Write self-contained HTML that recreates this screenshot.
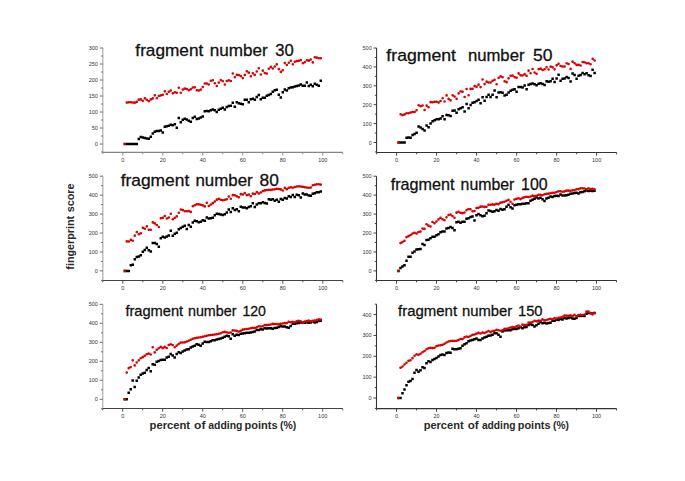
<!DOCTYPE html><html><head><meta charset="utf-8"><style>html,body{margin:0;padding:0;background:#fff;}svg{display:block;}</style></head><body>
<svg width="685" height="481" viewBox="0 0 685 481" font-family='"Liberation Sans", sans-serif'>
<rect width="685" height="481" fill="#fff"/>
<g><line x1="102.8" y1="48" x2="102.8" y2="152.4" stroke="#bdbdbd" stroke-width="1.5"/><line x1="101.1" y1="152" x2="102.8" y2="152" stroke="#5a5a5a" stroke-width="0.9"/><line x1="99.8" y1="144" x2="102.8" y2="144" stroke="#5a5a5a" stroke-width="0.9"/><text transform="translate(97.9 146) scale(1 1.12)" font-size="5.5" fill="#333" text-anchor="end">0</text><line x1="101.1" y1="136" x2="102.8" y2="136" stroke="#5a5a5a" stroke-width="0.9"/><line x1="99.8" y1="128" x2="102.8" y2="128" stroke="#5a5a5a" stroke-width="0.9"/><text transform="translate(97.9 130) scale(1 1.12)" font-size="5.5" fill="#333" text-anchor="end">50</text><line x1="101.1" y1="120" x2="102.8" y2="120" stroke="#5a5a5a" stroke-width="0.9"/><line x1="99.8" y1="112" x2="102.8" y2="112" stroke="#5a5a5a" stroke-width="0.9"/><text transform="translate(97.9 114) scale(1 1.12)" font-size="5.5" fill="#333" text-anchor="end">100</text><line x1="101.1" y1="104" x2="102.8" y2="104" stroke="#5a5a5a" stroke-width="0.9"/><line x1="99.8" y1="96" x2="102.8" y2="96" stroke="#5a5a5a" stroke-width="0.9"/><text transform="translate(97.9 98) scale(1 1.12)" font-size="5.5" fill="#333" text-anchor="end">150</text><line x1="101.1" y1="88" x2="102.8" y2="88" stroke="#5a5a5a" stroke-width="0.9"/><line x1="99.8" y1="80" x2="102.8" y2="80" stroke="#5a5a5a" stroke-width="0.9"/><text transform="translate(97.9 82) scale(1 1.12)" font-size="5.5" fill="#333" text-anchor="end">200</text><line x1="101.1" y1="72" x2="102.8" y2="72" stroke="#5a5a5a" stroke-width="0.9"/><line x1="99.8" y1="64" x2="102.8" y2="64" stroke="#5a5a5a" stroke-width="0.9"/><text transform="translate(97.9 66) scale(1 1.12)" font-size="5.5" fill="#333" text-anchor="end">250</text><line x1="101.1" y1="56" x2="102.8" y2="56" stroke="#5a5a5a" stroke-width="0.9"/><line x1="99.8" y1="48" x2="102.8" y2="48" stroke="#5a5a5a" stroke-width="0.9"/><text transform="translate(97.9 50) scale(1 1.12)" font-size="5.5" fill="#333" text-anchor="end">300</text><line x1="102.8" y1="152.4" x2="342.8" y2="152.4" stroke="#858585" stroke-width="1.1"/><line x1="102.8" y1="152.4" x2="102.8" y2="154.2" stroke="#858585" stroke-width="0.9"/><line x1="122.8" y1="152.4" x2="122.8" y2="155.6" stroke="#858585" stroke-width="0.9"/><text transform="translate(122.8 161.6) scale(1 1.12)" font-size="5.5" fill="#333" text-anchor="middle">0</text><line x1="142.8" y1="152.4" x2="142.8" y2="154.2" stroke="#858585" stroke-width="0.9"/><line x1="162.8" y1="152.4" x2="162.8" y2="155.6" stroke="#858585" stroke-width="0.9"/><text transform="translate(162.8 161.6) scale(1 1.12)" font-size="5.5" fill="#333" text-anchor="middle">20</text><line x1="182.8" y1="152.4" x2="182.8" y2="154.2" stroke="#858585" stroke-width="0.9"/><line x1="202.8" y1="152.4" x2="202.8" y2="155.6" stroke="#858585" stroke-width="0.9"/><text transform="translate(202.8 161.6) scale(1 1.12)" font-size="5.5" fill="#333" text-anchor="middle">40</text><line x1="222.8" y1="152.4" x2="222.8" y2="154.2" stroke="#858585" stroke-width="0.9"/><line x1="242.8" y1="152.4" x2="242.8" y2="155.6" stroke="#858585" stroke-width="0.9"/><text transform="translate(242.8 161.6) scale(1 1.12)" font-size="5.5" fill="#333" text-anchor="middle">60</text><line x1="262.8" y1="152.4" x2="262.8" y2="154.2" stroke="#858585" stroke-width="0.9"/><line x1="282.8" y1="152.4" x2="282.8" y2="155.6" stroke="#858585" stroke-width="0.9"/><text transform="translate(282.8 161.6) scale(1 1.12)" font-size="5.5" fill="#333" text-anchor="middle">80</text><line x1="302.8" y1="152.4" x2="302.8" y2="154.2" stroke="#858585" stroke-width="0.9"/><line x1="322.8" y1="152.4" x2="322.8" y2="155.6" stroke="#858585" stroke-width="0.9"/><text transform="translate(322.8 161.6) scale(1 1.12)" font-size="5.5" fill="#333" text-anchor="middle">100</text><line x1="342.8" y1="152.4" x2="342.8" y2="154.2" stroke="#858585" stroke-width="0.9"/><path d="M123.55 142.75h2.5v2.5h-2.5zM125.55 142.75h2.5v2.5h-2.5zM127.55 142.75h2.5v2.5h-2.5zM129.55 142.75h2.5v2.5h-2.5zM131.55 142.75h2.5v2.5h-2.5zM133.55 142.75h2.5v2.5h-2.5zM135.55 142.75h2.5v2.5h-2.5zM137.55 137.8h2.5v2.5h-2.5zM139.55 135.87h2.5v2.5h-2.5zM141.55 136.29h2.5v2.5h-2.5zM143.55 136.78h2.5v2.5h-2.5zM145.55 137.26h2.5v2.5h-2.5zM147.55 137.57h2.5v2.5h-2.5zM149.55 135.39h2.5v2.5h-2.5zM151.55 132.19h2.5v2.5h-2.5zM153.55 130.59h2.5v2.5h-2.5zM155.55 129.63h2.5v2.5h-2.5zM157.55 129.63h2.5v2.5h-2.5zM159.55 129.15h2.5v2.5h-2.5zM161.55 131.23h2.5v2.5h-2.5zM163.55 125.41h2.5v2.5h-2.5zM165.55 125.03h2.5v2.5h-2.5zM167.55 124.41h2.5v2.5h-2.5zM169.55 123.6h2.5v2.5h-2.5zM171.55 123.94h2.5v2.5h-2.5zM173.55 123.07h2.5v2.5h-2.5zM175.55 126.59h2.5v2.5h-2.5zM177.55 116.83h2.5v2.5h-2.5zM179.55 120.99h2.5v2.5h-2.5zM181.55 118.43h2.5v2.5h-2.5zM183.55 117.47h2.5v2.5h-2.5zM185.55 118.34h2.5v2.5h-2.5zM187.55 119.58h2.5v2.5h-2.5zM189.55 120.43h2.5v2.5h-2.5zM191.55 116.67h2.5v2.5h-2.5zM193.55 115.49h2.5v2.5h-2.5zM195.55 117.75h2.5v2.5h-2.5zM197.55 117.31h2.5v2.5h-2.5zM199.55 116.19h2.5v2.5h-2.5zM201.55 115.23h2.5v2.5h-2.5zM203.55 110.01h2.5v2.5h-2.5zM205.55 109.73h2.5v2.5h-2.5zM207.55 109.92h2.5v2.5h-2.5zM209.55 108.98h2.5v2.5h-2.5zM211.55 108.24h2.5v2.5h-2.5zM213.55 108.91h2.5v2.5h-2.5zM215.55 110.83h2.5v2.5h-2.5zM217.55 108.57h2.5v2.5h-2.5zM219.55 107.55h2.5v2.5h-2.5zM221.55 106.59h2.5v2.5h-2.5zM223.55 108.3h2.5v2.5h-2.5zM225.55 105.77h2.5v2.5h-2.5zM227.55 104.86h2.5v2.5h-2.5zM229.55 104.61h2.5v2.5h-2.5zM231.55 101.52h2.5v2.5h-2.5zM233.55 105.54h2.5v2.5h-2.5zM235.55 101.09h2.5v2.5h-2.5zM237.55 102h2.5v2.5h-2.5zM239.55 102.54h2.5v2.5h-2.5zM241.55 103.1h2.5v2.5h-2.5zM243.55 98.59h2.5v2.5h-2.5zM245.55 98.59h2.5v2.5h-2.5zM247.55 100.99h2.5v2.5h-2.5zM249.55 97.95h2.5v2.5h-2.5zM251.55 97.47h2.5v2.5h-2.5zM253.55 98.59h2.5v2.5h-2.5zM255.55 95.65h2.5v2.5h-2.5zM257.55 93.66h2.5v2.5h-2.5zM259.55 98.08h2.5v2.5h-2.5zM261.55 96.39h2.5v2.5h-2.5zM263.55 96.57h2.5v2.5h-2.5zM265.55 94.59h2.5v2.5h-2.5zM267.55 93.63h2.5v2.5h-2.5zM269.55 92.64h2.5v2.5h-2.5zM271.55 90.59h2.5v2.5h-2.5zM273.55 89.09h2.5v2.5h-2.5zM275.55 88.57h2.5v2.5h-2.5zM277.55 93.51h2.5v2.5h-2.5zM279.55 96.25h2.5v2.5h-2.5zM281.55 91.11h2.5v2.5h-2.5zM283.55 88.3h2.5v2.5h-2.5zM285.55 89.15h2.5v2.5h-2.5zM287.55 86.9h2.5v2.5h-2.5zM289.55 86.35h2.5v2.5h-2.5zM291.55 85.88h2.5v2.5h-2.5zM293.55 85.37h2.5v2.5h-2.5zM295.55 84.86h2.5v2.5h-2.5zM297.55 84.14h2.5v2.5h-2.5zM299.55 83.2h2.5v2.5h-2.5zM301.55 84.55h2.5v2.5h-2.5zM303.55 84.55h2.5v2.5h-2.5zM305.55 81.27h2.5v2.5h-2.5zM307.55 84.8h2.5v2.5h-2.5zM309.55 83.56h2.5v2.5h-2.5zM311.55 84.96h2.5v2.5h-2.5zM313.55 82.43h2.5v2.5h-2.5zM315.55 83.42h2.5v2.5h-2.5zM317.55 84.51h2.5v2.5h-2.5zM319.55 79.39h2.5v2.5h-2.5z" fill="#000"/><path d="M123.5 144a1.3 1.3 0 1 0 2.6 0a1.3 1.3 0 1 0 -2.6 0zM125.5 102.62a1.3 1.3 0 1 0 2.6 0a1.3 1.3 0 1 0 -2.6 0zM127.5 102.3a1.3 1.3 0 1 0 2.6 0a1.3 1.3 0 1 0 -2.6 0zM129.5 102.18a1.3 1.3 0 1 0 2.6 0a1.3 1.3 0 1 0 -2.6 0zM131.5 102.49a1.3 1.3 0 1 0 2.6 0a1.3 1.3 0 1 0 -2.6 0zM133.5 102.66a1.3 1.3 0 1 0 2.6 0a1.3 1.3 0 1 0 -2.6 0zM135.5 101.89a1.3 1.3 0 1 0 2.6 0a1.3 1.3 0 1 0 -2.6 0zM137.5 99.65a1.3 1.3 0 1 0 2.6 0a1.3 1.3 0 1 0 -2.6 0zM139.5 99.39a1.3 1.3 0 1 0 2.6 0a1.3 1.3 0 1 0 -2.6 0zM141.5 100.86a1.3 1.3 0 1 0 2.6 0a1.3 1.3 0 1 0 -2.6 0zM143.5 98.37a1.3 1.3 0 1 0 2.6 0a1.3 1.3 0 1 0 -2.6 0zM145.5 99.71a1.3 1.3 0 1 0 2.6 0a1.3 1.3 0 1 0 -2.6 0zM147.5 101.25a1.3 1.3 0 1 0 2.6 0a1.3 1.3 0 1 0 -2.6 0zM149.5 99.42a1.3 1.3 0 1 0 2.6 0a1.3 1.3 0 1 0 -2.6 0zM151.5 98.4a1.3 1.3 0 1 0 2.6 0a1.3 1.3 0 1 0 -2.6 0zM153.5 95.36a1.3 1.3 0 1 0 2.6 0a1.3 1.3 0 1 0 -2.6 0zM155.5 98.22a1.3 1.3 0 1 0 2.6 0a1.3 1.3 0 1 0 -2.6 0zM157.5 96a1.3 1.3 0 1 0 2.6 0a1.3 1.3 0 1 0 -2.6 0zM159.5 95.36a1.3 1.3 0 1 0 2.6 0a1.3 1.3 0 1 0 -2.6 0zM161.5 94.72a1.3 1.3 0 1 0 2.6 0a1.3 1.3 0 1 0 -2.6 0zM163.5 91.33a1.3 1.3 0 1 0 2.6 0a1.3 1.3 0 1 0 -2.6 0zM165.5 93.93a1.3 1.3 0 1 0 2.6 0a1.3 1.3 0 1 0 -2.6 0zM167.5 91.68a1.3 1.3 0 1 0 2.6 0a1.3 1.3 0 1 0 -2.6 0zM169.5 90.56a1.3 1.3 0 1 0 2.6 0a1.3 1.3 0 1 0 -2.6 0zM171.5 93.31a1.3 1.3 0 1 0 2.6 0a1.3 1.3 0 1 0 -2.6 0zM173.5 92.22a1.3 1.3 0 1 0 2.6 0a1.3 1.3 0 1 0 -2.6 0zM175.5 92.8a1.3 1.3 0 1 0 2.6 0a1.3 1.3 0 1 0 -2.6 0zM177.5 87.68a1.3 1.3 0 1 0 2.6 0a1.3 1.3 0 1 0 -2.6 0zM179.5 92.8a1.3 1.3 0 1 0 2.6 0a1.3 1.3 0 1 0 -2.6 0zM181.5 89.6a1.3 1.3 0 1 0 2.6 0a1.3 1.3 0 1 0 -2.6 0zM183.5 88.62a1.3 1.3 0 1 0 2.6 0a1.3 1.3 0 1 0 -2.6 0zM185.5 88.99a1.3 1.3 0 1 0 2.6 0a1.3 1.3 0 1 0 -2.6 0zM187.5 90.18a1.3 1.3 0 1 0 2.6 0a1.3 1.3 0 1 0 -2.6 0zM189.5 89.23a1.3 1.3 0 1 0 2.6 0a1.3 1.3 0 1 0 -2.6 0zM191.5 87.47a1.3 1.3 0 1 0 2.6 0a1.3 1.3 0 1 0 -2.6 0zM193.5 87.36a1.3 1.3 0 1 0 2.6 0a1.3 1.3 0 1 0 -2.6 0zM195.5 90.27a1.3 1.3 0 1 0 2.6 0a1.3 1.3 0 1 0 -2.6 0zM197.5 90.56a1.3 1.3 0 1 0 2.6 0a1.3 1.3 0 1 0 -2.6 0zM199.5 89.6a1.3 1.3 0 1 0 2.6 0a1.3 1.3 0 1 0 -2.6 0zM201.5 87.04a1.3 1.3 0 1 0 2.6 0a1.3 1.3 0 1 0 -2.6 0zM203.5 83.52a1.3 1.3 0 1 0 2.6 0a1.3 1.3 0 1 0 -2.6 0zM205.5 83.52a1.3 1.3 0 1 0 2.6 0a1.3 1.3 0 1 0 -2.6 0zM207.5 84.48a1.3 1.3 0 1 0 2.6 0a1.3 1.3 0 1 0 -2.6 0zM209.5 80.79a1.3 1.3 0 1 0 2.6 0a1.3 1.3 0 1 0 -2.6 0zM211.5 80.29a1.3 1.3 0 1 0 2.6 0a1.3 1.3 0 1 0 -2.6 0zM213.5 83.23a1.3 1.3 0 1 0 2.6 0a1.3 1.3 0 1 0 -2.6 0zM215.5 86.05a1.3 1.3 0 1 0 2.6 0a1.3 1.3 0 1 0 -2.6 0zM217.5 82.62a1.3 1.3 0 1 0 2.6 0a1.3 1.3 0 1 0 -2.6 0zM219.5 80a1.3 1.3 0 1 0 2.6 0a1.3 1.3 0 1 0 -2.6 0zM221.5 81.28a1.3 1.3 0 1 0 2.6 0a1.3 1.3 0 1 0 -2.6 0zM223.5 84.48a1.3 1.3 0 1 0 2.6 0a1.3 1.3 0 1 0 -2.6 0zM225.5 80.96a1.3 1.3 0 1 0 2.6 0a1.3 1.3 0 1 0 -2.6 0zM227.5 80.32a1.3 1.3 0 1 0 2.6 0a1.3 1.3 0 1 0 -2.6 0zM229.5 80.96a1.3 1.3 0 1 0 2.6 0a1.3 1.3 0 1 0 -2.6 0zM231.5 73.51a1.3 1.3 0 1 0 2.6 0a1.3 1.3 0 1 0 -2.6 0zM233.5 77.18a1.3 1.3 0 1 0 2.6 0a1.3 1.3 0 1 0 -2.6 0zM235.5 74.88a1.3 1.3 0 1 0 2.6 0a1.3 1.3 0 1 0 -2.6 0zM237.5 74.98a1.3 1.3 0 1 0 2.6 0a1.3 1.3 0 1 0 -2.6 0zM239.5 76.1a1.3 1.3 0 1 0 2.6 0a1.3 1.3 0 1 0 -2.6 0zM241.5 78.08a1.3 1.3 0 1 0 2.6 0a1.3 1.3 0 1 0 -2.6 0zM243.5 74.88a1.3 1.3 0 1 0 2.6 0a1.3 1.3 0 1 0 -2.6 0zM245.5 71.2a1.3 1.3 0 1 0 2.6 0a1.3 1.3 0 1 0 -2.6 0zM247.5 72.64a1.3 1.3 0 1 0 2.6 0a1.3 1.3 0 1 0 -2.6 0zM249.5 76.32a1.3 1.3 0 1 0 2.6 0a1.3 1.3 0 1 0 -2.6 0zM251.5 73.28a1.3 1.3 0 1 0 2.6 0a1.3 1.3 0 1 0 -2.6 0zM253.5 74.88a1.3 1.3 0 1 0 2.6 0a1.3 1.3 0 1 0 -2.6 0zM255.5 71.55a1.3 1.3 0 1 0 2.6 0a1.3 1.3 0 1 0 -2.6 0zM257.5 68.26a1.3 1.3 0 1 0 2.6 0a1.3 1.3 0 1 0 -2.6 0zM259.5 74.43a1.3 1.3 0 1 0 2.6 0a1.3 1.3 0 1 0 -2.6 0zM261.5 70.66a1.3 1.3 0 1 0 2.6 0a1.3 1.3 0 1 0 -2.6 0zM263.5 73.02a1.3 1.3 0 1 0 2.6 0a1.3 1.3 0 1 0 -2.6 0zM265.5 73.6a1.3 1.3 0 1 0 2.6 0a1.3 1.3 0 1 0 -2.6 0zM267.5 68.8a1.3 1.3 0 1 0 2.6 0a1.3 1.3 0 1 0 -2.6 0zM269.5 66.88a1.3 1.3 0 1 0 2.6 0a1.3 1.3 0 1 0 -2.6 0zM271.5 68.48a1.3 1.3 0 1 0 2.6 0a1.3 1.3 0 1 0 -2.6 0zM273.5 66.56a1.3 1.3 0 1 0 2.6 0a1.3 1.3 0 1 0 -2.6 0zM275.5 64.35a1.3 1.3 0 1 0 2.6 0a1.3 1.3 0 1 0 -2.6 0zM277.5 69.12a1.3 1.3 0 1 0 2.6 0a1.3 1.3 0 1 0 -2.6 0zM279.5 71.9a1.3 1.3 0 1 0 2.6 0a1.3 1.3 0 1 0 -2.6 0zM281.5 70.21a1.3 1.3 0 1 0 2.6 0a1.3 1.3 0 1 0 -2.6 0zM283.5 62.98a1.3 1.3 0 1 0 2.6 0a1.3 1.3 0 1 0 -2.6 0zM285.5 65.05a1.3 1.3 0 1 0 2.6 0a1.3 1.3 0 1 0 -2.6 0zM287.5 62.72a1.3 1.3 0 1 0 2.6 0a1.3 1.3 0 1 0 -2.6 0zM289.5 60.8a1.3 1.3 0 1 0 2.6 0a1.3 1.3 0 1 0 -2.6 0zM291.5 64.32a1.3 1.3 0 1 0 2.6 0a1.3 1.3 0 1 0 -2.6 0zM293.5 61.76a1.3 1.3 0 1 0 2.6 0a1.3 1.3 0 1 0 -2.6 0zM295.5 61.12a1.3 1.3 0 1 0 2.6 0a1.3 1.3 0 1 0 -2.6 0zM297.5 60.83a1.3 1.3 0 1 0 2.6 0a1.3 1.3 0 1 0 -2.6 0zM299.5 59.96a1.3 1.3 0 1 0 2.6 0a1.3 1.3 0 1 0 -2.6 0zM301.5 63.26a1.3 1.3 0 1 0 2.6 0a1.3 1.3 0 1 0 -2.6 0zM303.5 62.18a1.3 1.3 0 1 0 2.6 0a1.3 1.3 0 1 0 -2.6 0zM305.5 60.22a1.3 1.3 0 1 0 2.6 0a1.3 1.3 0 1 0 -2.6 0zM307.5 60.64a1.3 1.3 0 1 0 2.6 0a1.3 1.3 0 1 0 -2.6 0zM309.5 59.49a1.3 1.3 0 1 0 2.6 0a1.3 1.3 0 1 0 -2.6 0zM311.5 62.4a1.3 1.3 0 1 0 2.6 0a1.3 1.3 0 1 0 -2.6 0zM313.5 57.28a1.3 1.3 0 1 0 2.6 0a1.3 1.3 0 1 0 -2.6 0zM315.5 57.6a1.3 1.3 0 1 0 2.6 0a1.3 1.3 0 1 0 -2.6 0zM317.5 58.24a1.3 1.3 0 1 0 2.6 0a1.3 1.3 0 1 0 -2.6 0zM319.5 58.24a1.3 1.3 0 1 0 2.6 0a1.3 1.3 0 1 0 -2.6 0z" fill="#dc0000"/><text x="135.36" y="55.90" font-size="17" fill="#111" textLength="67.87" lengthAdjust="spacingAndGlyphs" stroke="#111" stroke-width="0.3">fragment</text><text x="209.87" y="55.90" font-size="17" fill="#111" textLength="57.92" lengthAdjust="spacingAndGlyphs" stroke="#111" stroke-width="0.3">number</text><text x="275.37" y="55.90" font-size="17" fill="#111" textLength="18.48" lengthAdjust="spacingAndGlyphs" stroke="#111" stroke-width="0.3">30</text></g>
<g><line x1="376.6" y1="48" x2="376.6" y2="152.5" stroke="#333" stroke-width="1.1"/><line x1="374.9" y1="151.95" x2="376.6" y2="151.95" stroke="#333" stroke-width="0.9"/><line x1="373.6" y1="142.5" x2="376.6" y2="142.5" stroke="#333" stroke-width="0.9"/><text transform="translate(371.7 144.5) scale(1 1.12)" font-size="5.5" fill="#333" text-anchor="end">0</text><line x1="374.9" y1="133.05" x2="376.6" y2="133.05" stroke="#333" stroke-width="0.9"/><line x1="373.6" y1="123.6" x2="376.6" y2="123.6" stroke="#333" stroke-width="0.9"/><text transform="translate(371.7 125.6) scale(1 1.12)" font-size="5.5" fill="#333" text-anchor="end">100</text><line x1="374.9" y1="114.15" x2="376.6" y2="114.15" stroke="#333" stroke-width="0.9"/><line x1="373.6" y1="104.7" x2="376.6" y2="104.7" stroke="#333" stroke-width="0.9"/><text transform="translate(371.7 106.7) scale(1 1.12)" font-size="5.5" fill="#333" text-anchor="end">200</text><line x1="374.9" y1="95.25" x2="376.6" y2="95.25" stroke="#333" stroke-width="0.9"/><line x1="373.6" y1="85.8" x2="376.6" y2="85.8" stroke="#333" stroke-width="0.9"/><text transform="translate(371.7 87.8) scale(1 1.12)" font-size="5.5" fill="#333" text-anchor="end">300</text><line x1="374.9" y1="76.35" x2="376.6" y2="76.35" stroke="#333" stroke-width="0.9"/><line x1="373.6" y1="66.9" x2="376.6" y2="66.9" stroke="#333" stroke-width="0.9"/><text transform="translate(371.7 68.9) scale(1 1.12)" font-size="5.5" fill="#333" text-anchor="end">400</text><line x1="374.9" y1="57.45" x2="376.6" y2="57.45" stroke="#333" stroke-width="0.9"/><line x1="373.6" y1="48" x2="376.6" y2="48" stroke="#333" stroke-width="0.9"/><text transform="translate(371.7 50) scale(1 1.12)" font-size="5.5" fill="#333" text-anchor="end">500</text><line x1="376.6" y1="152.5" x2="616.6" y2="152.5" stroke="#333" stroke-width="1.1"/><line x1="376.6" y1="152.5" x2="376.6" y2="154.3" stroke="#333" stroke-width="0.9"/><line x1="396.6" y1="152.5" x2="396.6" y2="155.7" stroke="#333" stroke-width="0.9"/><text transform="translate(396.6 161.7) scale(1 1.12)" font-size="5.5" fill="#333" text-anchor="middle">0</text><line x1="416.6" y1="152.5" x2="416.6" y2="154.3" stroke="#333" stroke-width="0.9"/><line x1="436.6" y1="152.5" x2="436.6" y2="155.7" stroke="#333" stroke-width="0.9"/><text transform="translate(436.6 161.7) scale(1 1.12)" font-size="5.5" fill="#333" text-anchor="middle">20</text><line x1="456.6" y1="152.5" x2="456.6" y2="154.3" stroke="#333" stroke-width="0.9"/><line x1="476.6" y1="152.5" x2="476.6" y2="155.7" stroke="#333" stroke-width="0.9"/><text transform="translate(476.6 161.7) scale(1 1.12)" font-size="5.5" fill="#333" text-anchor="middle">40</text><line x1="496.6" y1="152.5" x2="496.6" y2="154.3" stroke="#333" stroke-width="0.9"/><line x1="516.6" y1="152.5" x2="516.6" y2="155.7" stroke="#333" stroke-width="0.9"/><text transform="translate(516.6 161.7) scale(1 1.12)" font-size="5.5" fill="#333" text-anchor="middle">60</text><line x1="536.6" y1="152.5" x2="536.6" y2="154.3" stroke="#333" stroke-width="0.9"/><line x1="556.6" y1="152.5" x2="556.6" y2="155.7" stroke="#333" stroke-width="0.9"/><text transform="translate(556.6 161.7) scale(1 1.12)" font-size="5.5" fill="#333" text-anchor="middle">80</text><line x1="576.6" y1="152.5" x2="576.6" y2="154.3" stroke="#333" stroke-width="0.9"/><line x1="596.6" y1="152.5" x2="596.6" y2="155.7" stroke="#333" stroke-width="0.9"/><text transform="translate(596.6 161.7) scale(1 1.12)" font-size="5.5" fill="#333" text-anchor="middle">100</text><line x1="616.6" y1="152.5" x2="616.6" y2="154.3" stroke="#333" stroke-width="0.9"/><path d="M397.35 141.25h2.5v2.5h-2.5zM399.35 141.25h2.5v2.5h-2.5zM401.35 141.25h2.5v2.5h-2.5zM403.35 141.25h2.5v2.5h-2.5zM405.35 136.41h2.5v2.5h-2.5zM407.35 136.13h2.5v2.5h-2.5zM409.35 136.59h2.5v2.5h-2.5zM411.35 133.68h2.5v2.5h-2.5zM413.35 132.68h2.5v2.5h-2.5zM415.35 131.43h2.5v2.5h-2.5zM417.35 125.23h2.5v2.5h-2.5zM419.35 126.22h2.5v2.5h-2.5zM421.35 127.74h2.5v2.5h-2.5zM423.35 129.25h2.5v2.5h-2.5zM425.35 124.2h2.5v2.5h-2.5zM427.35 125.88h2.5v2.5h-2.5zM429.35 122.17h2.5v2.5h-2.5zM431.35 119.98h2.5v2.5h-2.5zM433.35 118.94h2.5v2.5h-2.5zM435.35 118h2.5v2.5h-2.5zM437.35 117.96h2.5v2.5h-2.5zM439.35 117.3h2.5v2.5h-2.5zM441.35 114.98h2.5v2.5h-2.5zM443.35 118h2.5v2.5h-2.5zM445.35 113.84h2.5v2.5h-2.5zM447.35 113.98h2.5v2.5h-2.5zM449.35 114.87h2.5v2.5h-2.5zM451.35 109.61h2.5v2.5h-2.5zM453.35 109.17h2.5v2.5h-2.5zM455.35 111.58h2.5v2.5h-2.5zM457.35 107.99h2.5v2.5h-2.5zM459.35 107.04h2.5v2.5h-2.5zM461.35 106.01h2.5v2.5h-2.5zM463.35 110.14h2.5v2.5h-2.5zM465.35 102.75h2.5v2.5h-2.5zM467.35 107.04h2.5v2.5h-2.5zM469.35 103.87h2.5v2.5h-2.5zM471.35 101.59h2.5v2.5h-2.5zM473.35 100.99h2.5v2.5h-2.5zM475.35 99.82h2.5v2.5h-2.5zM477.35 98.44h2.5v2.5h-2.5zM479.35 102.08h2.5v2.5h-2.5zM481.35 95.89h2.5v2.5h-2.5zM483.35 99.48h2.5v2.5h-2.5zM485.35 95.74h2.5v2.5h-2.5zM487.35 93.42h2.5v2.5h-2.5zM489.35 95.7h2.5v2.5h-2.5zM491.35 93.57h2.5v2.5h-2.5zM493.35 89.28h2.5v2.5h-2.5zM495.35 95.89h2.5v2.5h-2.5zM497.35 91.35h2.5v2.5h-2.5zM499.35 90.98h2.5v2.5h-2.5zM501.35 91.45h2.5v2.5h-2.5zM503.35 94.28h2.5v2.5h-2.5zM505.35 93.55h2.5v2.5h-2.5zM507.35 91.22h2.5v2.5h-2.5zM509.35 89.62h2.5v2.5h-2.5zM511.35 88.44h2.5v2.5h-2.5zM513.35 87.94h2.5v2.5h-2.5zM515.35 90.51h2.5v2.5h-2.5zM517.35 85.87h2.5v2.5h-2.5zM519.35 85.87h2.5v2.5h-2.5zM521.35 86.33h2.5v2.5h-2.5zM523.35 84.25h2.5v2.5h-2.5zM525.35 87.88h2.5v2.5h-2.5zM527.35 83.59h2.5v2.5h-2.5zM529.35 82.67h2.5v2.5h-2.5zM531.35 82.2h2.5v2.5h-2.5zM533.35 82.92h2.5v2.5h-2.5zM535.35 84.02h2.5v2.5h-2.5zM537.35 82.61h2.5v2.5h-2.5zM539.35 82.11h2.5v2.5h-2.5zM541.35 82.79h2.5v2.5h-2.5zM543.35 83.66h2.5v2.5h-2.5zM545.35 79.95h2.5v2.5h-2.5zM547.35 80.39h2.5v2.5h-2.5zM549.35 79.95h2.5v2.5h-2.5zM551.35 77.6h2.5v2.5h-2.5zM553.35 80.66h2.5v2.5h-2.5zM555.35 77.33h2.5v2.5h-2.5zM557.35 73.6h2.5v2.5h-2.5zM559.35 79.43h2.5v2.5h-2.5zM561.35 77.56h2.5v2.5h-2.5zM563.35 77.19h2.5v2.5h-2.5zM565.35 75.83h2.5v2.5h-2.5zM567.35 76.76h2.5v2.5h-2.5zM569.35 80.34h2.5v2.5h-2.5zM571.35 72.18h2.5v2.5h-2.5zM573.35 73.7h2.5v2.5h-2.5zM575.35 77.56h2.5v2.5h-2.5zM577.35 74.43h2.5v2.5h-2.5zM579.35 73.83h2.5v2.5h-2.5zM581.35 71.86h2.5v2.5h-2.5zM583.35 72.97h2.5v2.5h-2.5zM585.35 71.92h2.5v2.5h-2.5zM587.35 73.97h2.5v2.5h-2.5zM589.35 74.67h2.5v2.5h-2.5zM591.35 68.44h2.5v2.5h-2.5zM593.35 71.7h2.5v2.5h-2.5z" fill="#000"/><path d="M397.3 142.5a1.3 1.3 0 1 0 2.6 0a1.3 1.3 0 1 0 -2.6 0zM399.3 114.29a1.3 1.3 0 1 0 2.6 0a1.3 1.3 0 1 0 -2.6 0zM401.3 115.09a1.3 1.3 0 1 0 2.6 0a1.3 1.3 0 1 0 -2.6 0zM403.3 114.4a1.3 1.3 0 1 0 2.6 0a1.3 1.3 0 1 0 -2.6 0zM405.3 113.3a1.3 1.3 0 1 0 2.6 0a1.3 1.3 0 1 0 -2.6 0zM407.3 113.28a1.3 1.3 0 1 0 2.6 0a1.3 1.3 0 1 0 -2.6 0zM409.3 112.52a1.3 1.3 0 1 0 2.6 0a1.3 1.3 0 1 0 -2.6 0zM411.3 111.97a1.3 1.3 0 1 0 2.6 0a1.3 1.3 0 1 0 -2.6 0zM413.3 111.99a1.3 1.3 0 1 0 2.6 0a1.3 1.3 0 1 0 -2.6 0zM415.3 110.18a1.3 1.3 0 1 0 2.6 0a1.3 1.3 0 1 0 -2.6 0zM417.3 105.2a1.3 1.3 0 1 0 2.6 0a1.3 1.3 0 1 0 -2.6 0zM419.3 106.24a1.3 1.3 0 1 0 2.6 0a1.3 1.3 0 1 0 -2.6 0zM421.3 105.46a1.3 1.3 0 1 0 2.6 0a1.3 1.3 0 1 0 -2.6 0zM423.3 109.99a1.3 1.3 0 1 0 2.6 0a1.3 1.3 0 1 0 -2.6 0zM425.3 105.61a1.3 1.3 0 1 0 2.6 0a1.3 1.3 0 1 0 -2.6 0zM427.3 107.27a1.3 1.3 0 1 0 2.6 0a1.3 1.3 0 1 0 -2.6 0zM429.3 102.15a1.3 1.3 0 1 0 2.6 0a1.3 1.3 0 1 0 -2.6 0zM431.3 102.28a1.3 1.3 0 1 0 2.6 0a1.3 1.3 0 1 0 -2.6 0zM433.3 101.77a1.3 1.3 0 1 0 2.6 0a1.3 1.3 0 1 0 -2.6 0zM435.3 101.75a1.3 1.3 0 1 0 2.6 0a1.3 1.3 0 1 0 -2.6 0zM437.3 102.59a1.3 1.3 0 1 0 2.6 0a1.3 1.3 0 1 0 -2.6 0zM439.3 100.96a1.3 1.3 0 1 0 2.6 0a1.3 1.3 0 1 0 -2.6 0zM441.3 98.22a1.3 1.3 0 1 0 2.6 0a1.3 1.3 0 1 0 -2.6 0zM443.3 101.49a1.3 1.3 0 1 0 2.6 0a1.3 1.3 0 1 0 -2.6 0zM445.3 95.4a1.3 1.3 0 1 0 2.6 0a1.3 1.3 0 1 0 -2.6 0zM447.3 98.92a1.3 1.3 0 1 0 2.6 0a1.3 1.3 0 1 0 -2.6 0zM449.3 100.35a1.3 1.3 0 1 0 2.6 0a1.3 1.3 0 1 0 -2.6 0zM451.3 95.34a1.3 1.3 0 1 0 2.6 0a1.3 1.3 0 1 0 -2.6 0zM453.3 96.44a1.3 1.3 0 1 0 2.6 0a1.3 1.3 0 1 0 -2.6 0zM455.3 98.84a1.3 1.3 0 1 0 2.6 0a1.3 1.3 0 1 0 -2.6 0zM457.3 93.39a1.3 1.3 0 1 0 2.6 0a1.3 1.3 0 1 0 -2.6 0zM459.3 91.28a1.3 1.3 0 1 0 2.6 0a1.3 1.3 0 1 0 -2.6 0zM461.3 91.87a1.3 1.3 0 1 0 2.6 0a1.3 1.3 0 1 0 -2.6 0zM463.3 96.95a1.3 1.3 0 1 0 2.6 0a1.3 1.3 0 1 0 -2.6 0zM465.3 89.06a1.3 1.3 0 1 0 2.6 0a1.3 1.3 0 1 0 -2.6 0zM467.3 95.25a1.3 1.3 0 1 0 2.6 0a1.3 1.3 0 1 0 -2.6 0zM469.3 88.9a1.3 1.3 0 1 0 2.6 0a1.3 1.3 0 1 0 -2.6 0zM471.3 88.82a1.3 1.3 0 1 0 2.6 0a1.3 1.3 0 1 0 -2.6 0zM473.3 86.1a1.3 1.3 0 1 0 2.6 0a1.3 1.3 0 1 0 -2.6 0zM475.3 86.76a1.3 1.3 0 1 0 2.6 0a1.3 1.3 0 1 0 -2.6 0zM477.3 84.65a1.3 1.3 0 1 0 2.6 0a1.3 1.3 0 1 0 -2.6 0zM479.3 87.12a1.3 1.3 0 1 0 2.6 0a1.3 1.3 0 1 0 -2.6 0zM481.3 79.56a1.3 1.3 0 1 0 2.6 0a1.3 1.3 0 1 0 -2.6 0zM483.3 84.11a1.3 1.3 0 1 0 2.6 0a1.3 1.3 0 1 0 -2.6 0zM485.3 81.64a1.3 1.3 0 1 0 2.6 0a1.3 1.3 0 1 0 -2.6 0zM487.3 82.51a1.3 1.3 0 1 0 2.6 0a1.3 1.3 0 1 0 -2.6 0zM489.3 82.47a1.3 1.3 0 1 0 2.6 0a1.3 1.3 0 1 0 -2.6 0zM491.3 80.83a1.3 1.3 0 1 0 2.6 0a1.3 1.3 0 1 0 -2.6 0zM493.3 79.78a1.3 1.3 0 1 0 2.6 0a1.3 1.3 0 1 0 -2.6 0zM495.3 84.29a1.3 1.3 0 1 0 2.6 0a1.3 1.3 0 1 0 -2.6 0zM497.3 77.86a1.3 1.3 0 1 0 2.6 0a1.3 1.3 0 1 0 -2.6 0zM499.3 76.35a1.3 1.3 0 1 0 2.6 0a1.3 1.3 0 1 0 -2.6 0zM501.3 77.26a1.3 1.3 0 1 0 2.6 0a1.3 1.3 0 1 0 -2.6 0zM503.3 81.3a1.3 1.3 0 1 0 2.6 0a1.3 1.3 0 1 0 -2.6 0zM505.3 82.15a1.3 1.3 0 1 0 2.6 0a1.3 1.3 0 1 0 -2.6 0zM507.3 78.33a1.3 1.3 0 1 0 2.6 0a1.3 1.3 0 1 0 -2.6 0zM509.3 75.73a1.3 1.3 0 1 0 2.6 0a1.3 1.3 0 1 0 -2.6 0zM511.3 75.45a1.3 1.3 0 1 0 2.6 0a1.3 1.3 0 1 0 -2.6 0zM513.3 77.07a1.3 1.3 0 1 0 2.6 0a1.3 1.3 0 1 0 -2.6 0zM515.3 77.72a1.3 1.3 0 1 0 2.6 0a1.3 1.3 0 1 0 -2.6 0zM517.3 73.38a1.3 1.3 0 1 0 2.6 0a1.3 1.3 0 1 0 -2.6 0zM519.3 75.29a1.3 1.3 0 1 0 2.6 0a1.3 1.3 0 1 0 -2.6 0zM521.3 75.53a1.3 1.3 0 1 0 2.6 0a1.3 1.3 0 1 0 -2.6 0zM523.3 74.13a1.3 1.3 0 1 0 2.6 0a1.3 1.3 0 1 0 -2.6 0zM525.3 75.84a1.3 1.3 0 1 0 2.6 0a1.3 1.3 0 1 0 -2.6 0zM527.3 70.64a1.3 1.3 0 1 0 2.6 0a1.3 1.3 0 1 0 -2.6 0zM529.3 73.25a1.3 1.3 0 1 0 2.6 0a1.3 1.3 0 1 0 -2.6 0zM531.3 69.02a1.3 1.3 0 1 0 2.6 0a1.3 1.3 0 1 0 -2.6 0zM533.3 72.48a1.3 1.3 0 1 0 2.6 0a1.3 1.3 0 1 0 -2.6 0zM535.3 73.7a1.3 1.3 0 1 0 2.6 0a1.3 1.3 0 1 0 -2.6 0zM537.3 69.28a1.3 1.3 0 1 0 2.6 0a1.3 1.3 0 1 0 -2.6 0zM539.3 68.68a1.3 1.3 0 1 0 2.6 0a1.3 1.3 0 1 0 -2.6 0zM541.3 70.02a1.3 1.3 0 1 0 2.6 0a1.3 1.3 0 1 0 -2.6 0zM543.3 69.32a1.3 1.3 0 1 0 2.6 0a1.3 1.3 0 1 0 -2.6 0zM545.3 67.25a1.3 1.3 0 1 0 2.6 0a1.3 1.3 0 1 0 -2.6 0zM547.3 69.47a1.3 1.3 0 1 0 2.6 0a1.3 1.3 0 1 0 -2.6 0zM549.3 66.6a1.3 1.3 0 1 0 2.6 0a1.3 1.3 0 1 0 -2.6 0zM551.3 67.32a1.3 1.3 0 1 0 2.6 0a1.3 1.3 0 1 0 -2.6 0zM553.3 69.35a1.3 1.3 0 1 0 2.6 0a1.3 1.3 0 1 0 -2.6 0zM555.3 65.37a1.3 1.3 0 1 0 2.6 0a1.3 1.3 0 1 0 -2.6 0zM557.3 63.77a1.3 1.3 0 1 0 2.6 0a1.3 1.3 0 1 0 -2.6 0zM559.3 66.03a1.3 1.3 0 1 0 2.6 0a1.3 1.3 0 1 0 -2.6 0zM561.3 66.52a1.3 1.3 0 1 0 2.6 0a1.3 1.3 0 1 0 -2.6 0zM563.3 66.48a1.3 1.3 0 1 0 2.6 0a1.3 1.3 0 1 0 -2.6 0zM565.3 63.31a1.3 1.3 0 1 0 2.6 0a1.3 1.3 0 1 0 -2.6 0zM567.3 63.98a1.3 1.3 0 1 0 2.6 0a1.3 1.3 0 1 0 -2.6 0zM569.3 68.9a1.3 1.3 0 1 0 2.6 0a1.3 1.3 0 1 0 -2.6 0zM571.3 61.67a1.3 1.3 0 1 0 2.6 0a1.3 1.3 0 1 0 -2.6 0zM573.3 63.27a1.3 1.3 0 1 0 2.6 0a1.3 1.3 0 1 0 -2.6 0zM575.3 64.9a1.3 1.3 0 1 0 2.6 0a1.3 1.3 0 1 0 -2.6 0zM577.3 64.73a1.3 1.3 0 1 0 2.6 0a1.3 1.3 0 1 0 -2.6 0zM579.3 65.51a1.3 1.3 0 1 0 2.6 0a1.3 1.3 0 1 0 -2.6 0zM581.3 61.99a1.3 1.3 0 1 0 2.6 0a1.3 1.3 0 1 0 -2.6 0zM583.3 62.25a1.3 1.3 0 1 0 2.6 0a1.3 1.3 0 1 0 -2.6 0zM585.3 63.2a1.3 1.3 0 1 0 2.6 0a1.3 1.3 0 1 0 -2.6 0zM587.3 63.19a1.3 1.3 0 1 0 2.6 0a1.3 1.3 0 1 0 -2.6 0zM589.3 64.31a1.3 1.3 0 1 0 2.6 0a1.3 1.3 0 1 0 -2.6 0zM591.3 58.8a1.3 1.3 0 1 0 2.6 0a1.3 1.3 0 1 0 -2.6 0zM593.3 60.55a1.3 1.3 0 1 0 2.6 0a1.3 1.3 0 1 0 -2.6 0z" fill="#dc0000"/><text x="386.35" y="61.30" font-size="17" fill="#111" textLength="69.68" lengthAdjust="spacingAndGlyphs" stroke="#111" stroke-width="0.3">fragment</text><text x="467.89" y="61.30" font-size="17" fill="#111" textLength="56.59" lengthAdjust="spacingAndGlyphs" stroke="#111" stroke-width="0.3">number</text><text x="533.10" y="61.30" font-size="17" fill="#111" textLength="19.49" lengthAdjust="spacingAndGlyphs" stroke="#111" stroke-width="0.3">50</text></g>
<g><line x1="102.8" y1="176.2" x2="102.8" y2="280.5" stroke="#bdbdbd" stroke-width="1.5"/><line x1="101.1" y1="280.37" x2="102.8" y2="280.37" stroke="#5a5a5a" stroke-width="0.9"/><line x1="99.8" y1="270.9" x2="102.8" y2="270.9" stroke="#5a5a5a" stroke-width="0.9"/><text transform="translate(97.9 272.9) scale(1 1.12)" font-size="5.5" fill="#333" text-anchor="end">0</text><line x1="101.1" y1="261.43" x2="102.8" y2="261.43" stroke="#5a5a5a" stroke-width="0.9"/><line x1="99.8" y1="251.96" x2="102.8" y2="251.96" stroke="#5a5a5a" stroke-width="0.9"/><text transform="translate(97.9 253.96) scale(1 1.12)" font-size="5.5" fill="#333" text-anchor="end">100</text><line x1="101.1" y1="242.49" x2="102.8" y2="242.49" stroke="#5a5a5a" stroke-width="0.9"/><line x1="99.8" y1="233.02" x2="102.8" y2="233.02" stroke="#5a5a5a" stroke-width="0.9"/><text transform="translate(97.9 235.02) scale(1 1.12)" font-size="5.5" fill="#333" text-anchor="end">200</text><line x1="101.1" y1="223.55" x2="102.8" y2="223.55" stroke="#5a5a5a" stroke-width="0.9"/><line x1="99.8" y1="214.08" x2="102.8" y2="214.08" stroke="#5a5a5a" stroke-width="0.9"/><text transform="translate(97.9 216.08) scale(1 1.12)" font-size="5.5" fill="#333" text-anchor="end">300</text><line x1="101.1" y1="204.61" x2="102.8" y2="204.61" stroke="#5a5a5a" stroke-width="0.9"/><line x1="99.8" y1="195.14" x2="102.8" y2="195.14" stroke="#5a5a5a" stroke-width="0.9"/><text transform="translate(97.9 197.14) scale(1 1.12)" font-size="5.5" fill="#333" text-anchor="end">400</text><line x1="101.1" y1="185.67" x2="102.8" y2="185.67" stroke="#5a5a5a" stroke-width="0.9"/><line x1="99.8" y1="176.2" x2="102.8" y2="176.2" stroke="#5a5a5a" stroke-width="0.9"/><text transform="translate(97.9 178.2) scale(1 1.12)" font-size="5.5" fill="#333" text-anchor="end">500</text><line x1="102.8" y1="280.5" x2="342.8" y2="280.5" stroke="#444" stroke-width="1.1"/><line x1="102.8" y1="280.5" x2="102.8" y2="282.3" stroke="#444" stroke-width="0.9"/><line x1="122.8" y1="280.5" x2="122.8" y2="283.7" stroke="#444" stroke-width="0.9"/><text transform="translate(122.8 289.7) scale(1 1.12)" font-size="5.5" fill="#333" text-anchor="middle">0</text><line x1="142.8" y1="280.5" x2="142.8" y2="282.3" stroke="#444" stroke-width="0.9"/><line x1="162.8" y1="280.5" x2="162.8" y2="283.7" stroke="#444" stroke-width="0.9"/><text transform="translate(162.8 289.7) scale(1 1.12)" font-size="5.5" fill="#333" text-anchor="middle">20</text><line x1="182.8" y1="280.5" x2="182.8" y2="282.3" stroke="#444" stroke-width="0.9"/><line x1="202.8" y1="280.5" x2="202.8" y2="283.7" stroke="#444" stroke-width="0.9"/><text transform="translate(202.8 289.7) scale(1 1.12)" font-size="5.5" fill="#333" text-anchor="middle">40</text><line x1="222.8" y1="280.5" x2="222.8" y2="282.3" stroke="#444" stroke-width="0.9"/><line x1="242.8" y1="280.5" x2="242.8" y2="283.7" stroke="#444" stroke-width="0.9"/><text transform="translate(242.8 289.7) scale(1 1.12)" font-size="5.5" fill="#333" text-anchor="middle">60</text><line x1="262.8" y1="280.5" x2="262.8" y2="282.3" stroke="#444" stroke-width="0.9"/><line x1="282.8" y1="280.5" x2="282.8" y2="283.7" stroke="#444" stroke-width="0.9"/><text transform="translate(282.8 289.7) scale(1 1.12)" font-size="5.5" fill="#333" text-anchor="middle">80</text><line x1="302.8" y1="280.5" x2="302.8" y2="282.3" stroke="#444" stroke-width="0.9"/><line x1="322.8" y1="280.5" x2="322.8" y2="283.7" stroke="#444" stroke-width="0.9"/><text transform="translate(322.8 289.7) scale(1 1.12)" font-size="5.5" fill="#333" text-anchor="middle">100</text><line x1="342.8" y1="280.5" x2="342.8" y2="282.3" stroke="#444" stroke-width="0.9"/><path d="M123.55 269.65h2.5v2.5h-2.5zM125.55 269.65h2.5v2.5h-2.5zM127.55 269.65h2.5v2.5h-2.5zM129.55 263.97h2.5v2.5h-2.5zM131.55 263.52h2.5v2.5h-2.5zM133.55 257.89h2.5v2.5h-2.5zM135.55 255.82h2.5v2.5h-2.5zM137.55 255.31h2.5v2.5h-2.5zM139.55 254.12h2.5v2.5h-2.5zM141.55 250.5h2.5v2.5h-2.5zM143.55 248.75h2.5v2.5h-2.5zM145.55 246.5h2.5v2.5h-2.5zM147.55 249.11h2.5v2.5h-2.5zM149.55 250.14h2.5v2.5h-2.5zM151.55 241.81h2.5v2.5h-2.5zM153.55 241.81h2.5v2.5h-2.5zM155.55 242.76h2.5v2.5h-2.5zM157.55 245.6h2.5v2.5h-2.5zM159.55 236.95h2.5v2.5h-2.5zM161.55 235.61h2.5v2.5h-2.5zM163.55 236.13h2.5v2.5h-2.5zM165.55 235.18h2.5v2.5h-2.5zM167.55 234.16h2.5v2.5h-2.5zM169.55 229.54h2.5v2.5h-2.5zM171.55 234.42h2.5v2.5h-2.5zM173.55 232.44h2.5v2.5h-2.5zM175.55 231.44h2.5v2.5h-2.5zM177.55 228.12h2.5v2.5h-2.5zM179.55 226.86h2.5v2.5h-2.5zM181.55 225.42h2.5v2.5h-2.5zM183.55 224.45h2.5v2.5h-2.5zM185.55 227.79h2.5v2.5h-2.5zM187.55 223.76h2.5v2.5h-2.5zM189.55 225.62h2.5v2.5h-2.5zM191.55 221.25h2.5v2.5h-2.5zM193.55 219.51h2.5v2.5h-2.5zM195.55 220.03h2.5v2.5h-2.5zM197.55 220.97h2.5v2.5h-2.5zM199.55 220.41h2.5v2.5h-2.5zM201.55 218.93h2.5v2.5h-2.5zM203.55 219.46h2.5v2.5h-2.5zM205.55 216.19h2.5v2.5h-2.5zM207.55 217.29h2.5v2.5h-2.5zM209.55 216.96h2.5v2.5h-2.5zM211.55 216.48h2.5v2.5h-2.5zM213.55 214.11h2.5v2.5h-2.5zM215.55 212.55h2.5v2.5h-2.5zM217.55 212.72h2.5v2.5h-2.5zM219.55 213.19h2.5v2.5h-2.5zM221.55 213.74h2.5v2.5h-2.5zM223.55 213.11h2.5v2.5h-2.5zM225.55 211.31h2.5v2.5h-2.5zM227.55 208.28h2.5v2.5h-2.5zM229.55 210.76h2.5v2.5h-2.5zM231.55 207.04h2.5v2.5h-2.5zM233.55 208.65h2.5v2.5h-2.5zM235.55 208.02h2.5v2.5h-2.5zM237.55 210.05h2.5v2.5h-2.5zM239.55 205.59h2.5v2.5h-2.5zM241.55 206.35h2.5v2.5h-2.5zM243.55 206.26h2.5v2.5h-2.5zM245.55 207.09h2.5v2.5h-2.5zM247.55 205.76h2.5v2.5h-2.5zM249.55 205.1h2.5v2.5h-2.5zM251.55 202.09h2.5v2.5h-2.5zM253.55 205.63h2.5v2.5h-2.5zM255.55 203.24h2.5v2.5h-2.5zM257.55 201.92h2.5v2.5h-2.5zM259.55 201.94h2.5v2.5h-2.5zM261.55 201.12h2.5v2.5h-2.5zM263.55 201.83h2.5v2.5h-2.5zM265.55 202.34h2.5v2.5h-2.5zM267.55 197.96h2.5v2.5h-2.5zM269.55 198.51h2.5v2.5h-2.5zM271.55 198.09h2.5v2.5h-2.5zM273.55 199.44h2.5v2.5h-2.5zM275.55 198.62h2.5v2.5h-2.5zM277.55 200.44h2.5v2.5h-2.5zM279.55 197.78h2.5v2.5h-2.5zM281.55 198.51h2.5v2.5h-2.5zM283.55 196.72h2.5v2.5h-2.5zM285.55 197.24h2.5v2.5h-2.5zM287.55 194.89h2.5v2.5h-2.5zM289.55 195.67h2.5v2.5h-2.5zM291.55 193.74h2.5v2.5h-2.5zM293.55 195.65h2.5v2.5h-2.5zM295.55 193.51h2.5v2.5h-2.5zM297.55 193.94h2.5v2.5h-2.5zM299.55 196.22h2.5v2.5h-2.5zM301.55 192.18h2.5v2.5h-2.5zM303.55 193.13h2.5v2.5h-2.5zM305.55 193.23h2.5v2.5h-2.5zM307.55 194.2h2.5v2.5h-2.5zM309.55 194.46h2.5v2.5h-2.5zM311.55 192.56h2.5v2.5h-2.5zM313.55 192.07h2.5v2.5h-2.5zM315.55 191.05h2.5v2.5h-2.5zM317.55 191.05h2.5v2.5h-2.5zM319.55 190.19h2.5v2.5h-2.5z" fill="#000"/><path d="M123.5 270.9a1.3 1.3 0 1 0 2.6 0a1.3 1.3 0 1 0 -2.6 0zM125.5 241.39a1.3 1.3 0 1 0 2.6 0a1.3 1.3 0 1 0 -2.6 0zM127.5 241.56a1.3 1.3 0 1 0 2.6 0a1.3 1.3 0 1 0 -2.6 0zM129.5 239.84a1.3 1.3 0 1 0 2.6 0a1.3 1.3 0 1 0 -2.6 0zM131.5 240.79a1.3 1.3 0 1 0 2.6 0a1.3 1.3 0 1 0 -2.6 0zM133.5 235.67a1.3 1.3 0 1 0 2.6 0a1.3 1.3 0 1 0 -2.6 0zM135.5 232.07a1.3 1.3 0 1 0 2.6 0a1.3 1.3 0 1 0 -2.6 0zM137.5 234.27a1.3 1.3 0 1 0 2.6 0a1.3 1.3 0 1 0 -2.6 0zM139.5 233.29a1.3 1.3 0 1 0 2.6 0a1.3 1.3 0 1 0 -2.6 0zM141.5 227.8a1.3 1.3 0 1 0 2.6 0a1.3 1.3 0 1 0 -2.6 0zM143.5 228.74a1.3 1.3 0 1 0 2.6 0a1.3 1.3 0 1 0 -2.6 0zM145.5 226.37a1.3 1.3 0 1 0 2.6 0a1.3 1.3 0 1 0 -2.6 0zM147.5 229.71a1.3 1.3 0 1 0 2.6 0a1.3 1.3 0 1 0 -2.6 0zM149.5 229.82a1.3 1.3 0 1 0 2.6 0a1.3 1.3 0 1 0 -2.6 0zM151.5 222.41a1.3 1.3 0 1 0 2.6 0a1.3 1.3 0 1 0 -2.6 0zM153.5 223.36a1.3 1.3 0 1 0 2.6 0a1.3 1.3 0 1 0 -2.6 0zM155.5 225.07a1.3 1.3 0 1 0 2.6 0a1.3 1.3 0 1 0 -2.6 0zM157.5 226.96a1.3 1.3 0 1 0 2.6 0a1.3 1.3 0 1 0 -2.6 0zM159.5 218.25a1.3 1.3 0 1 0 2.6 0a1.3 1.3 0 1 0 -2.6 0zM161.5 217.87a1.3 1.3 0 1 0 2.6 0a1.3 1.3 0 1 0 -2.6 0zM163.5 215.97a1.3 1.3 0 1 0 2.6 0a1.3 1.3 0 1 0 -2.6 0zM165.5 218.51a1.3 1.3 0 1 0 2.6 0a1.3 1.3 0 1 0 -2.6 0zM167.5 217.45a1.3 1.3 0 1 0 2.6 0a1.3 1.3 0 1 0 -2.6 0zM169.5 213.76a1.3 1.3 0 1 0 2.6 0a1.3 1.3 0 1 0 -2.6 0zM171.5 219.23a1.3 1.3 0 1 0 2.6 0a1.3 1.3 0 1 0 -2.6 0zM173.5 217.73a1.3 1.3 0 1 0 2.6 0a1.3 1.3 0 1 0 -2.6 0zM175.5 216.35a1.3 1.3 0 1 0 2.6 0a1.3 1.3 0 1 0 -2.6 0zM177.5 212.75a1.3 1.3 0 1 0 2.6 0a1.3 1.3 0 1 0 -2.6 0zM179.5 209.53a1.3 1.3 0 1 0 2.6 0a1.3 1.3 0 1 0 -2.6 0zM181.5 210.1a1.3 1.3 0 1 0 2.6 0a1.3 1.3 0 1 0 -2.6 0zM183.5 211.24a1.3 1.3 0 1 0 2.6 0a1.3 1.3 0 1 0 -2.6 0zM185.5 211.24a1.3 1.3 0 1 0 2.6 0a1.3 1.3 0 1 0 -2.6 0zM187.5 211.07a1.3 1.3 0 1 0 2.6 0a1.3 1.3 0 1 0 -2.6 0zM189.5 211.9a1.3 1.3 0 1 0 2.6 0a1.3 1.3 0 1 0 -2.6 0zM191.5 206.29a1.3 1.3 0 1 0 2.6 0a1.3 1.3 0 1 0 -2.6 0zM193.5 205.26a1.3 1.3 0 1 0 2.6 0a1.3 1.3 0 1 0 -2.6 0zM195.5 204.33a1.3 1.3 0 1 0 2.6 0a1.3 1.3 0 1 0 -2.6 0zM197.5 204.33a1.3 1.3 0 1 0 2.6 0a1.3 1.3 0 1 0 -2.6 0zM199.5 204.8a1.3 1.3 0 1 0 2.6 0a1.3 1.3 0 1 0 -2.6 0zM201.5 205.37a1.3 1.3 0 1 0 2.6 0a1.3 1.3 0 1 0 -2.6 0zM203.5 206.39a1.3 1.3 0 1 0 2.6 0a1.3 1.3 0 1 0 -2.6 0zM205.5 202.69a1.3 1.3 0 1 0 2.6 0a1.3 1.3 0 1 0 -2.6 0zM207.5 206.07a1.3 1.3 0 1 0 2.6 0a1.3 1.3 0 1 0 -2.6 0zM209.5 204.52a1.3 1.3 0 1 0 2.6 0a1.3 1.3 0 1 0 -2.6 0zM211.5 203.13a1.3 1.3 0 1 0 2.6 0a1.3 1.3 0 1 0 -2.6 0zM213.5 201.57a1.3 1.3 0 1 0 2.6 0a1.3 1.3 0 1 0 -2.6 0zM215.5 199.64a1.3 1.3 0 1 0 2.6 0a1.3 1.3 0 1 0 -2.6 0zM217.5 198.83a1.3 1.3 0 1 0 2.6 0a1.3 1.3 0 1 0 -2.6 0zM219.5 199.74a1.3 1.3 0 1 0 2.6 0a1.3 1.3 0 1 0 -2.6 0zM221.5 200.25a1.3 1.3 0 1 0 2.6 0a1.3 1.3 0 1 0 -2.6 0zM223.5 199.74a1.3 1.3 0 1 0 2.6 0a1.3 1.3 0 1 0 -2.6 0zM225.5 199.23a1.3 1.3 0 1 0 2.6 0a1.3 1.3 0 1 0 -2.6 0zM227.5 196.52a1.3 1.3 0 1 0 2.6 0a1.3 1.3 0 1 0 -2.6 0zM229.5 198.82a1.3 1.3 0 1 0 2.6 0a1.3 1.3 0 1 0 -2.6 0zM231.5 195.14a1.3 1.3 0 1 0 2.6 0a1.3 1.3 0 1 0 -2.6 0zM233.5 195.24a1.3 1.3 0 1 0 2.6 0a1.3 1.3 0 1 0 -2.6 0zM235.5 196.33a1.3 1.3 0 1 0 2.6 0a1.3 1.3 0 1 0 -2.6 0zM237.5 197.34a1.3 1.3 0 1 0 2.6 0a1.3 1.3 0 1 0 -2.6 0zM239.5 194.15a1.3 1.3 0 1 0 2.6 0a1.3 1.3 0 1 0 -2.6 0zM241.5 194.44a1.3 1.3 0 1 0 2.6 0a1.3 1.3 0 1 0 -2.6 0zM243.5 193.11a1.3 1.3 0 1 0 2.6 0a1.3 1.3 0 1 0 -2.6 0zM245.5 195.14a1.3 1.3 0 1 0 2.6 0a1.3 1.3 0 1 0 -2.6 0zM247.5 194.57a1.3 1.3 0 1 0 2.6 0a1.3 1.3 0 1 0 -2.6 0zM249.5 196.18a1.3 1.3 0 1 0 2.6 0a1.3 1.3 0 1 0 -2.6 0zM251.5 193.62a1.3 1.3 0 1 0 2.6 0a1.3 1.3 0 1 0 -2.6 0zM253.5 193.97a1.3 1.3 0 1 0 2.6 0a1.3 1.3 0 1 0 -2.6 0zM255.5 192.13a1.3 1.3 0 1 0 2.6 0a1.3 1.3 0 1 0 -2.6 0zM257.5 193.62a1.3 1.3 0 1 0 2.6 0a1.3 1.3 0 1 0 -2.6 0zM259.5 192.57a1.3 1.3 0 1 0 2.6 0a1.3 1.3 0 1 0 -2.6 0zM261.5 191.09a1.3 1.3 0 1 0 2.6 0a1.3 1.3 0 1 0 -2.6 0zM263.5 190.39a1.3 1.3 0 1 0 2.6 0a1.3 1.3 0 1 0 -2.6 0zM265.5 190.05a1.3 1.3 0 1 0 2.6 0a1.3 1.3 0 1 0 -2.6 0zM267.5 189.84a1.3 1.3 0 1 0 2.6 0a1.3 1.3 0 1 0 -2.6 0zM269.5 189.84a1.3 1.3 0 1 0 2.6 0a1.3 1.3 0 1 0 -2.6 0zM271.5 189.57a1.3 1.3 0 1 0 2.6 0a1.3 1.3 0 1 0 -2.6 0zM273.5 189.19a1.3 1.3 0 1 0 2.6 0a1.3 1.3 0 1 0 -2.6 0zM275.5 188.81a1.3 1.3 0 1 0 2.6 0a1.3 1.3 0 1 0 -2.6 0zM277.5 188.95a1.3 1.3 0 1 0 2.6 0a1.3 1.3 0 1 0 -2.6 0zM279.5 189.42a1.3 1.3 0 1 0 2.6 0a1.3 1.3 0 1 0 -2.6 0zM281.5 190.48a1.3 1.3 0 1 0 2.6 0a1.3 1.3 0 1 0 -2.6 0zM283.5 187.9a1.3 1.3 0 1 0 2.6 0a1.3 1.3 0 1 0 -2.6 0zM285.5 189.13a1.3 1.3 0 1 0 2.6 0a1.3 1.3 0 1 0 -2.6 0zM287.5 187.75a1.3 1.3 0 1 0 2.6 0a1.3 1.3 0 1 0 -2.6 0zM289.5 187.22a1.3 1.3 0 1 0 2.6 0a1.3 1.3 0 1 0 -2.6 0zM291.5 187.75a1.3 1.3 0 1 0 2.6 0a1.3 1.3 0 1 0 -2.6 0zM293.5 187.06a1.3 1.3 0 1 0 2.6 0a1.3 1.3 0 1 0 -2.6 0zM295.5 186.56a1.3 1.3 0 1 0 2.6 0a1.3 1.3 0 1 0 -2.6 0zM297.5 186.27a1.3 1.3 0 1 0 2.6 0a1.3 1.3 0 1 0 -2.6 0zM299.5 186.52a1.3 1.3 0 1 0 2.6 0a1.3 1.3 0 1 0 -2.6 0zM301.5 186.85a1.3 1.3 0 1 0 2.6 0a1.3 1.3 0 1 0 -2.6 0zM303.5 187.19a1.3 1.3 0 1 0 2.6 0a1.3 1.3 0 1 0 -2.6 0zM305.5 187.52a1.3 1.3 0 1 0 2.6 0a1.3 1.3 0 1 0 -2.6 0zM307.5 187.75a1.3 1.3 0 1 0 2.6 0a1.3 1.3 0 1 0 -2.6 0zM309.5 187.52a1.3 1.3 0 1 0 2.6 0a1.3 1.3 0 1 0 -2.6 0zM311.5 185.22a1.3 1.3 0 1 0 2.6 0a1.3 1.3 0 1 0 -2.6 0zM313.5 184.69a1.3 1.3 0 1 0 2.6 0a1.3 1.3 0 1 0 -2.6 0zM315.5 184.29a1.3 1.3 0 1 0 2.6 0a1.3 1.3 0 1 0 -2.6 0zM317.5 184.29a1.3 1.3 0 1 0 2.6 0a1.3 1.3 0 1 0 -2.6 0zM319.5 184.59a1.3 1.3 0 1 0 2.6 0a1.3 1.3 0 1 0 -2.6 0z" fill="#dc0000"/><text x="120.65" y="186.20" font-size="17" fill="#111" textLength="68.67" lengthAdjust="spacingAndGlyphs" stroke="#111" stroke-width="0.3">fragment</text><text x="195.48" y="186.20" font-size="17" fill="#111" textLength="57.20" lengthAdjust="spacingAndGlyphs" stroke="#111" stroke-width="0.3">number</text><text x="259.54" y="186.20" font-size="17" fill="#111" textLength="19.33" lengthAdjust="spacingAndGlyphs" stroke="#111" stroke-width="0.3">80</text></g>
<g><line x1="376.5" y1="176.2" x2="376.5" y2="280.5" stroke="#333" stroke-width="1.1"/><line x1="374.8" y1="280.37" x2="376.5" y2="280.37" stroke="#333" stroke-width="0.9"/><line x1="373.5" y1="270.9" x2="376.5" y2="270.9" stroke="#333" stroke-width="0.9"/><text transform="translate(371.6 272.9) scale(1 1.12)" font-size="5.5" fill="#333" text-anchor="end">0</text><line x1="374.8" y1="261.43" x2="376.5" y2="261.43" stroke="#333" stroke-width="0.9"/><line x1="373.5" y1="251.96" x2="376.5" y2="251.96" stroke="#333" stroke-width="0.9"/><text transform="translate(371.6 253.96) scale(1 1.12)" font-size="5.5" fill="#333" text-anchor="end">100</text><line x1="374.8" y1="242.49" x2="376.5" y2="242.49" stroke="#333" stroke-width="0.9"/><line x1="373.5" y1="233.02" x2="376.5" y2="233.02" stroke="#333" stroke-width="0.9"/><text transform="translate(371.6 235.02) scale(1 1.12)" font-size="5.5" fill="#333" text-anchor="end">200</text><line x1="374.8" y1="223.55" x2="376.5" y2="223.55" stroke="#333" stroke-width="0.9"/><line x1="373.5" y1="214.08" x2="376.5" y2="214.08" stroke="#333" stroke-width="0.9"/><text transform="translate(371.6 216.08) scale(1 1.12)" font-size="5.5" fill="#333" text-anchor="end">300</text><line x1="374.8" y1="204.61" x2="376.5" y2="204.61" stroke="#333" stroke-width="0.9"/><line x1="373.5" y1="195.14" x2="376.5" y2="195.14" stroke="#333" stroke-width="0.9"/><text transform="translate(371.6 197.14) scale(1 1.12)" font-size="5.5" fill="#333" text-anchor="end">400</text><line x1="374.8" y1="185.67" x2="376.5" y2="185.67" stroke="#333" stroke-width="0.9"/><line x1="373.5" y1="176.2" x2="376.5" y2="176.2" stroke="#333" stroke-width="0.9"/><text transform="translate(371.6 178.2) scale(1 1.12)" font-size="5.5" fill="#333" text-anchor="end">500</text><line x1="376.5" y1="280.5" x2="616.5" y2="280.5" stroke="#333" stroke-width="1.1"/><line x1="376.5" y1="280.5" x2="376.5" y2="282.3" stroke="#333" stroke-width="0.9"/><line x1="396.5" y1="280.5" x2="396.5" y2="283.7" stroke="#333" stroke-width="0.9"/><text transform="translate(396.5 289.7) scale(1 1.12)" font-size="5.5" fill="#333" text-anchor="middle">0</text><line x1="416.5" y1="280.5" x2="416.5" y2="282.3" stroke="#333" stroke-width="0.9"/><line x1="436.5" y1="280.5" x2="436.5" y2="283.7" stroke="#333" stroke-width="0.9"/><text transform="translate(436.5 289.7) scale(1 1.12)" font-size="5.5" fill="#333" text-anchor="middle">20</text><line x1="456.5" y1="280.5" x2="456.5" y2="282.3" stroke="#333" stroke-width="0.9"/><line x1="476.5" y1="280.5" x2="476.5" y2="283.7" stroke="#333" stroke-width="0.9"/><text transform="translate(476.5 289.7) scale(1 1.12)" font-size="5.5" fill="#333" text-anchor="middle">40</text><line x1="496.5" y1="280.5" x2="496.5" y2="282.3" stroke="#333" stroke-width="0.9"/><line x1="516.5" y1="280.5" x2="516.5" y2="283.7" stroke="#333" stroke-width="0.9"/><text transform="translate(516.5 289.7) scale(1 1.12)" font-size="5.5" fill="#333" text-anchor="middle">60</text><line x1="536.5" y1="280.5" x2="536.5" y2="282.3" stroke="#333" stroke-width="0.9"/><line x1="556.5" y1="280.5" x2="556.5" y2="283.7" stroke="#333" stroke-width="0.9"/><text transform="translate(556.5 289.7) scale(1 1.12)" font-size="5.5" fill="#333" text-anchor="middle">80</text><line x1="576.5" y1="280.5" x2="576.5" y2="282.3" stroke="#333" stroke-width="0.9"/><line x1="596.5" y1="280.5" x2="596.5" y2="283.7" stroke="#333" stroke-width="0.9"/><text transform="translate(596.5 289.7) scale(1 1.12)" font-size="5.5" fill="#333" text-anchor="middle">100</text><line x1="616.5" y1="280.5" x2="616.5" y2="282.3" stroke="#333" stroke-width="0.9"/><path d="M397.25 269.65h2.5v2.5h-2.5zM399.25 266.74h2.5v2.5h-2.5zM401.25 265.31h2.5v2.5h-2.5zM403.25 263.99h2.5v2.5h-2.5zM405.25 259.6h2.5v2.5h-2.5zM407.25 255.44h2.5v2.5h-2.5zM409.25 255.61h2.5v2.5h-2.5zM411.25 251.57h2.5v2.5h-2.5zM413.25 250.33h2.5v2.5h-2.5zM415.25 248.31h2.5v2.5h-2.5zM417.25 248.02h2.5v2.5h-2.5zM419.25 247.66h2.5v2.5h-2.5zM421.25 242.81h2.5v2.5h-2.5zM423.25 243.76h2.5v2.5h-2.5zM425.25 238.66h2.5v2.5h-2.5zM427.25 238.45h2.5v2.5h-2.5zM429.25 237.05h2.5v2.5h-2.5zM431.25 235.41h2.5v2.5h-2.5zM433.25 235.6h2.5v2.5h-2.5zM435.25 234.1h2.5v2.5h-2.5zM437.25 233.05h2.5v2.5h-2.5zM439.25 230.97h2.5v2.5h-2.5zM441.25 230.17h2.5v2.5h-2.5zM443.25 230.33h2.5v2.5h-2.5zM445.25 227.22h2.5v2.5h-2.5zM447.25 226.75h2.5v2.5h-2.5zM449.25 225.81h2.5v2.5h-2.5zM451.25 226.64h2.5v2.5h-2.5zM453.25 229.02h2.5v2.5h-2.5zM455.25 220.91h2.5v2.5h-2.5zM457.25 220.57h2.5v2.5h-2.5zM459.25 221.4h2.5v2.5h-2.5zM461.25 220.47h2.5v2.5h-2.5zM463.25 220.55h2.5v2.5h-2.5zM465.25 217.61h2.5v2.5h-2.5zM467.25 216.9h2.5v2.5h-2.5zM469.25 215.86h2.5v2.5h-2.5zM471.25 215.34h2.5v2.5h-2.5zM473.25 219.28h2.5v2.5h-2.5zM475.25 214h2.5v2.5h-2.5zM477.25 212.72h2.5v2.5h-2.5zM479.25 214.06h2.5v2.5h-2.5zM481.25 214.89h2.5v2.5h-2.5zM483.25 214.6h2.5v2.5h-2.5zM485.25 212.03h2.5v2.5h-2.5zM487.25 209.23h2.5v2.5h-2.5zM489.25 209.82h2.5v2.5h-2.5zM491.25 210.56h2.5v2.5h-2.5zM493.25 209.96h2.5v2.5h-2.5zM495.25 208.76h2.5v2.5h-2.5zM497.25 209.41h2.5v2.5h-2.5zM499.25 207.71h2.5v2.5h-2.5zM501.25 208.61h2.5v2.5h-2.5zM503.25 208.09h2.5v2.5h-2.5zM505.25 205.52h2.5v2.5h-2.5zM507.25 203.55h2.5v2.5h-2.5zM509.25 206.01h2.5v2.5h-2.5zM511.25 207.15h2.5v2.5h-2.5zM513.25 203.88h2.5v2.5h-2.5zM515.25 203.55h2.5v2.5h-2.5zM517.25 203.11h2.5v2.5h-2.5zM519.25 203.06h2.5v2.5h-2.5zM521.25 202.61h2.5v2.5h-2.5zM523.25 202.51h2.5v2.5h-2.5zM525.25 202.07h2.5v2.5h-2.5zM527.25 201.94h2.5v2.5h-2.5zM529.25 199.5h2.5v2.5h-2.5zM531.25 198.49h2.5v2.5h-2.5zM533.25 197.54h2.5v2.5h-2.5zM535.25 196.31h2.5v2.5h-2.5zM537.25 197.2h2.5v2.5h-2.5zM539.25 196.49h2.5v2.5h-2.5zM541.25 198.02h2.5v2.5h-2.5zM543.25 199.78h2.5v2.5h-2.5zM545.25 197.32h2.5v2.5h-2.5zM547.25 196.46h2.5v2.5h-2.5zM549.25 195.26h2.5v2.5h-2.5zM551.25 195.73h2.5v2.5h-2.5zM553.25 194.78h2.5v2.5h-2.5zM555.25 194.55h2.5v2.5h-2.5zM557.25 194.69h2.5v2.5h-2.5zM559.25 193.34h2.5v2.5h-2.5zM561.25 194.24h2.5v2.5h-2.5zM563.25 194.34h2.5v2.5h-2.5zM565.25 193.88h2.5v2.5h-2.5zM567.25 193.47h2.5v2.5h-2.5zM569.25 192.62h2.5v2.5h-2.5zM571.25 192.15h2.5v2.5h-2.5zM573.25 191.7h2.5v2.5h-2.5zM575.25 191.57h2.5v2.5h-2.5zM577.25 192.27h2.5v2.5h-2.5zM579.25 191.11h2.5v2.5h-2.5zM581.25 190.8h2.5v2.5h-2.5zM583.25 190.11h2.5v2.5h-2.5zM585.25 189.32h2.5v2.5h-2.5zM587.25 189.82h2.5v2.5h-2.5zM589.25 189.51h2.5v2.5h-2.5zM591.25 189.68h2.5v2.5h-2.5zM593.25 189.52h2.5v2.5h-2.5z" fill="#000"/><path d="M397.2 270.9a1.3 1.3 0 1 0 2.6 0a1.3 1.3 0 1 0 -2.6 0zM399.2 243.12a1.3 1.3 0 1 0 2.6 0a1.3 1.3 0 1 0 -2.6 0zM401.2 242.12a1.3 1.3 0 1 0 2.6 0a1.3 1.3 0 1 0 -2.6 0zM403.2 240.76a1.3 1.3 0 1 0 2.6 0a1.3 1.3 0 1 0 -2.6 0zM405.2 237.09a1.3 1.3 0 1 0 2.6 0a1.3 1.3 0 1 0 -2.6 0zM407.2 236.13a1.3 1.3 0 1 0 2.6 0a1.3 1.3 0 1 0 -2.6 0zM409.2 234.95a1.3 1.3 0 1 0 2.6 0a1.3 1.3 0 1 0 -2.6 0zM411.2 233.5a1.3 1.3 0 1 0 2.6 0a1.3 1.3 0 1 0 -2.6 0zM413.2 232.68a1.3 1.3 0 1 0 2.6 0a1.3 1.3 0 1 0 -2.6 0zM415.2 233.59a1.3 1.3 0 1 0 2.6 0a1.3 1.3 0 1 0 -2.6 0zM417.2 232.07a1.3 1.3 0 1 0 2.6 0a1.3 1.3 0 1 0 -2.6 0zM419.2 231.58a1.3 1.3 0 1 0 2.6 0a1.3 1.3 0 1 0 -2.6 0zM421.2 228.47a1.3 1.3 0 1 0 2.6 0a1.3 1.3 0 1 0 -2.6 0zM423.2 228.9a1.3 1.3 0 1 0 2.6 0a1.3 1.3 0 1 0 -2.6 0zM425.2 224.2a1.3 1.3 0 1 0 2.6 0a1.3 1.3 0 1 0 -2.6 0zM427.2 225.65a1.3 1.3 0 1 0 2.6 0a1.3 1.3 0 1 0 -2.6 0zM429.2 226.57a1.3 1.3 0 1 0 2.6 0a1.3 1.3 0 1 0 -2.6 0zM431.2 221.94a1.3 1.3 0 1 0 2.6 0a1.3 1.3 0 1 0 -2.6 0zM433.2 223.32a1.3 1.3 0 1 0 2.6 0a1.3 1.3 0 1 0 -2.6 0zM435.2 221.43a1.3 1.3 0 1 0 2.6 0a1.3 1.3 0 1 0 -2.6 0zM437.2 219.42a1.3 1.3 0 1 0 2.6 0a1.3 1.3 0 1 0 -2.6 0zM439.2 217.71a1.3 1.3 0 1 0 2.6 0a1.3 1.3 0 1 0 -2.6 0zM441.2 219.21a1.3 1.3 0 1 0 2.6 0a1.3 1.3 0 1 0 -2.6 0zM443.2 220.22a1.3 1.3 0 1 0 2.6 0a1.3 1.3 0 1 0 -2.6 0zM445.2 217.34a1.3 1.3 0 1 0 2.6 0a1.3 1.3 0 1 0 -2.6 0zM447.2 215.01a1.3 1.3 0 1 0 2.6 0a1.3 1.3 0 1 0 -2.6 0zM449.2 214.47a1.3 1.3 0 1 0 2.6 0a1.3 1.3 0 1 0 -2.6 0zM451.2 215.97a1.3 1.3 0 1 0 2.6 0a1.3 1.3 0 1 0 -2.6 0zM453.2 217.75a1.3 1.3 0 1 0 2.6 0a1.3 1.3 0 1 0 -2.6 0zM455.2 212.64a1.3 1.3 0 1 0 2.6 0a1.3 1.3 0 1 0 -2.6 0zM457.2 211.73a1.3 1.3 0 1 0 2.6 0a1.3 1.3 0 1 0 -2.6 0zM459.2 212.77a1.3 1.3 0 1 0 2.6 0a1.3 1.3 0 1 0 -2.6 0zM461.2 213.13a1.3 1.3 0 1 0 2.6 0a1.3 1.3 0 1 0 -2.6 0zM463.2 212.55a1.3 1.3 0 1 0 2.6 0a1.3 1.3 0 1 0 -2.6 0zM465.2 210.25a1.3 1.3 0 1 0 2.6 0a1.3 1.3 0 1 0 -2.6 0zM467.2 209a1.3 1.3 0 1 0 2.6 0a1.3 1.3 0 1 0 -2.6 0zM469.2 209.18a1.3 1.3 0 1 0 2.6 0a1.3 1.3 0 1 0 -2.6 0zM471.2 211.22a1.3 1.3 0 1 0 2.6 0a1.3 1.3 0 1 0 -2.6 0zM473.2 211a1.3 1.3 0 1 0 2.6 0a1.3 1.3 0 1 0 -2.6 0zM475.2 207.98a1.3 1.3 0 1 0 2.6 0a1.3 1.3 0 1 0 -2.6 0zM477.2 207.83a1.3 1.3 0 1 0 2.6 0a1.3 1.3 0 1 0 -2.6 0zM479.2 206.63a1.3 1.3 0 1 0 2.6 0a1.3 1.3 0 1 0 -2.6 0zM481.2 206.45a1.3 1.3 0 1 0 2.6 0a1.3 1.3 0 1 0 -2.6 0zM483.2 206.9a1.3 1.3 0 1 0 2.6 0a1.3 1.3 0 1 0 -2.6 0zM485.2 206.77a1.3 1.3 0 1 0 2.6 0a1.3 1.3 0 1 0 -2.6 0zM487.2 204.8a1.3 1.3 0 1 0 2.6 0a1.3 1.3 0 1 0 -2.6 0zM489.2 204.7a1.3 1.3 0 1 0 2.6 0a1.3 1.3 0 1 0 -2.6 0zM491.2 204.4a1.3 1.3 0 1 0 2.6 0a1.3 1.3 0 1 0 -2.6 0zM493.2 204.65a1.3 1.3 0 1 0 2.6 0a1.3 1.3 0 1 0 -2.6 0zM495.2 203.81a1.3 1.3 0 1 0 2.6 0a1.3 1.3 0 1 0 -2.6 0zM497.2 204.15a1.3 1.3 0 1 0 2.6 0a1.3 1.3 0 1 0 -2.6 0zM499.2 202.67a1.3 1.3 0 1 0 2.6 0a1.3 1.3 0 1 0 -2.6 0zM501.2 202.18a1.3 1.3 0 1 0 2.6 0a1.3 1.3 0 1 0 -2.6 0zM503.2 201.77a1.3 1.3 0 1 0 2.6 0a1.3 1.3 0 1 0 -2.6 0zM505.2 200.82a1.3 1.3 0 1 0 2.6 0a1.3 1.3 0 1 0 -2.6 0zM507.2 199.69a1.3 1.3 0 1 0 2.6 0a1.3 1.3 0 1 0 -2.6 0zM509.2 201.77a1.3 1.3 0 1 0 2.6 0a1.3 1.3 0 1 0 -2.6 0zM511.2 203.76a1.3 1.3 0 1 0 2.6 0a1.3 1.3 0 1 0 -2.6 0zM513.2 199.61a1.3 1.3 0 1 0 2.6 0a1.3 1.3 0 1 0 -2.6 0zM515.2 198.7a1.3 1.3 0 1 0 2.6 0a1.3 1.3 0 1 0 -2.6 0zM517.2 198.22a1.3 1.3 0 1 0 2.6 0a1.3 1.3 0 1 0 -2.6 0zM519.2 199.09a1.3 1.3 0 1 0 2.6 0a1.3 1.3 0 1 0 -2.6 0zM521.2 197.89a1.3 1.3 0 1 0 2.6 0a1.3 1.3 0 1 0 -2.6 0zM523.2 197.22a1.3 1.3 0 1 0 2.6 0a1.3 1.3 0 1 0 -2.6 0zM525.2 196.75a1.3 1.3 0 1 0 2.6 0a1.3 1.3 0 1 0 -2.6 0zM527.2 197.06a1.3 1.3 0 1 0 2.6 0a1.3 1.3 0 1 0 -2.6 0zM529.2 196.54a1.3 1.3 0 1 0 2.6 0a1.3 1.3 0 1 0 -2.6 0zM531.2 195.65a1.3 1.3 0 1 0 2.6 0a1.3 1.3 0 1 0 -2.6 0zM533.2 196.15a1.3 1.3 0 1 0 2.6 0a1.3 1.3 0 1 0 -2.6 0zM535.2 195.92a1.3 1.3 0 1 0 2.6 0a1.3 1.3 0 1 0 -2.6 0zM537.2 194.7a1.3 1.3 0 1 0 2.6 0a1.3 1.3 0 1 0 -2.6 0zM539.2 194.69a1.3 1.3 0 1 0 2.6 0a1.3 1.3 0 1 0 -2.6 0zM541.2 195.2a1.3 1.3 0 1 0 2.6 0a1.3 1.3 0 1 0 -2.6 0zM543.2 194.31a1.3 1.3 0 1 0 2.6 0a1.3 1.3 0 1 0 -2.6 0zM545.2 193.85a1.3 1.3 0 1 0 2.6 0a1.3 1.3 0 1 0 -2.6 0zM547.2 193.64a1.3 1.3 0 1 0 2.6 0a1.3 1.3 0 1 0 -2.6 0zM549.2 193.24a1.3 1.3 0 1 0 2.6 0a1.3 1.3 0 1 0 -2.6 0zM551.2 192.85a1.3 1.3 0 1 0 2.6 0a1.3 1.3 0 1 0 -2.6 0zM553.2 192.71a1.3 1.3 0 1 0 2.6 0a1.3 1.3 0 1 0 -2.6 0zM555.2 191.95a1.3 1.3 0 1 0 2.6 0a1.3 1.3 0 1 0 -2.6 0zM557.2 191.36a1.3 1.3 0 1 0 2.6 0a1.3 1.3 0 1 0 -2.6 0zM559.2 191.22a1.3 1.3 0 1 0 2.6 0a1.3 1.3 0 1 0 -2.6 0zM561.2 191.74a1.3 1.3 0 1 0 2.6 0a1.3 1.3 0 1 0 -2.6 0zM563.2 191.41a1.3 1.3 0 1 0 2.6 0a1.3 1.3 0 1 0 -2.6 0zM565.2 190.65a1.3 1.3 0 1 0 2.6 0a1.3 1.3 0 1 0 -2.6 0zM567.2 190.66a1.3 1.3 0 1 0 2.6 0a1.3 1.3 0 1 0 -2.6 0zM569.2 190.83a1.3 1.3 0 1 0 2.6 0a1.3 1.3 0 1 0 -2.6 0zM571.2 190.33a1.3 1.3 0 1 0 2.6 0a1.3 1.3 0 1 0 -2.6 0zM573.2 190.29a1.3 1.3 0 1 0 2.6 0a1.3 1.3 0 1 0 -2.6 0zM575.2 189.18a1.3 1.3 0 1 0 2.6 0a1.3 1.3 0 1 0 -2.6 0zM577.2 189.14a1.3 1.3 0 1 0 2.6 0a1.3 1.3 0 1 0 -2.6 0zM579.2 188.33a1.3 1.3 0 1 0 2.6 0a1.3 1.3 0 1 0 -2.6 0zM581.2 188.24a1.3 1.3 0 1 0 2.6 0a1.3 1.3 0 1 0 -2.6 0zM583.2 188.51a1.3 1.3 0 1 0 2.6 0a1.3 1.3 0 1 0 -2.6 0zM585.2 189.31a1.3 1.3 0 1 0 2.6 0a1.3 1.3 0 1 0 -2.6 0zM587.2 188.23a1.3 1.3 0 1 0 2.6 0a1.3 1.3 0 1 0 -2.6 0zM589.2 189.11a1.3 1.3 0 1 0 2.6 0a1.3 1.3 0 1 0 -2.6 0zM591.2 188.75a1.3 1.3 0 1 0 2.6 0a1.3 1.3 0 1 0 -2.6 0zM593.2 189.33a1.3 1.3 0 1 0 2.6 0a1.3 1.3 0 1 0 -2.6 0z" fill="#dc0000"/><text x="390.67" y="189.80" font-size="17" fill="#111" textLength="63.85" lengthAdjust="spacingAndGlyphs" stroke="#111" stroke-width="0.3">fragment</text><text x="460.55" y="189.80" font-size="17" fill="#111" textLength="53.82" lengthAdjust="spacingAndGlyphs" stroke="#111" stroke-width="0.3">number</text><text x="521.09" y="189.80" font-size="17" fill="#111" textLength="26.53" lengthAdjust="spacingAndGlyphs" stroke="#111" stroke-width="0.3">100</text></g>
<g><line x1="102.7" y1="304.3" x2="102.7" y2="408.5" stroke="#bdbdbd" stroke-width="1.5"/><line x1="101" y1="408.8" x2="102.7" y2="408.8" stroke="#5a5a5a" stroke-width="0.9"/><line x1="99.7" y1="399.3" x2="102.7" y2="399.3" stroke="#5a5a5a" stroke-width="0.9"/><text transform="translate(97.8 401.3) scale(1 1.12)" font-size="5.5" fill="#333" text-anchor="end">0</text><line x1="101" y1="389.8" x2="102.7" y2="389.8" stroke="#5a5a5a" stroke-width="0.9"/><line x1="99.7" y1="380.3" x2="102.7" y2="380.3" stroke="#5a5a5a" stroke-width="0.9"/><text transform="translate(97.8 382.3) scale(1 1.12)" font-size="5.5" fill="#333" text-anchor="end">100</text><line x1="101" y1="370.8" x2="102.7" y2="370.8" stroke="#5a5a5a" stroke-width="0.9"/><line x1="99.7" y1="361.3" x2="102.7" y2="361.3" stroke="#5a5a5a" stroke-width="0.9"/><text transform="translate(97.8 363.3) scale(1 1.12)" font-size="5.5" fill="#333" text-anchor="end">200</text><line x1="101" y1="351.8" x2="102.7" y2="351.8" stroke="#5a5a5a" stroke-width="0.9"/><line x1="99.7" y1="342.3" x2="102.7" y2="342.3" stroke="#5a5a5a" stroke-width="0.9"/><text transform="translate(97.8 344.3) scale(1 1.12)" font-size="5.5" fill="#333" text-anchor="end">300</text><line x1="101" y1="332.8" x2="102.7" y2="332.8" stroke="#5a5a5a" stroke-width="0.9"/><line x1="99.7" y1="323.3" x2="102.7" y2="323.3" stroke="#5a5a5a" stroke-width="0.9"/><text transform="translate(97.8 325.3) scale(1 1.12)" font-size="5.5" fill="#333" text-anchor="end">400</text><line x1="101" y1="313.8" x2="102.7" y2="313.8" stroke="#5a5a5a" stroke-width="0.9"/><line x1="99.7" y1="304.3" x2="102.7" y2="304.3" stroke="#5a5a5a" stroke-width="0.9"/><text transform="translate(97.8 306.3) scale(1 1.12)" font-size="5.5" fill="#333" text-anchor="end">500</text><line x1="102.7" y1="408.5" x2="342.7" y2="408.5" stroke="#444" stroke-width="1.1"/><line x1="102.7" y1="408.5" x2="102.7" y2="410.3" stroke="#444" stroke-width="0.9"/><line x1="122.7" y1="408.5" x2="122.7" y2="411.7" stroke="#444" stroke-width="0.9"/><text transform="translate(122.7 417.7) scale(1 1.12)" font-size="5.5" fill="#333" text-anchor="middle">0</text><line x1="142.7" y1="408.5" x2="142.7" y2="410.3" stroke="#444" stroke-width="0.9"/><line x1="162.7" y1="408.5" x2="162.7" y2="411.7" stroke="#444" stroke-width="0.9"/><text transform="translate(162.7 417.7) scale(1 1.12)" font-size="5.5" fill="#333" text-anchor="middle">20</text><line x1="182.7" y1="408.5" x2="182.7" y2="410.3" stroke="#444" stroke-width="0.9"/><line x1="202.7" y1="408.5" x2="202.7" y2="411.7" stroke="#444" stroke-width="0.9"/><text transform="translate(202.7 417.7) scale(1 1.12)" font-size="5.5" fill="#333" text-anchor="middle">40</text><line x1="222.7" y1="408.5" x2="222.7" y2="410.3" stroke="#444" stroke-width="0.9"/><line x1="242.7" y1="408.5" x2="242.7" y2="411.7" stroke="#444" stroke-width="0.9"/><text transform="translate(242.7 417.7) scale(1 1.12)" font-size="5.5" fill="#333" text-anchor="middle">60</text><line x1="262.7" y1="408.5" x2="262.7" y2="410.3" stroke="#444" stroke-width="0.9"/><line x1="282.7" y1="408.5" x2="282.7" y2="411.7" stroke="#444" stroke-width="0.9"/><text transform="translate(282.7 417.7) scale(1 1.12)" font-size="5.5" fill="#333" text-anchor="middle">80</text><line x1="302.7" y1="408.5" x2="302.7" y2="410.3" stroke="#444" stroke-width="0.9"/><line x1="322.7" y1="408.5" x2="322.7" y2="411.7" stroke="#444" stroke-width="0.9"/><text transform="translate(322.7 417.7) scale(1 1.12)" font-size="5.5" fill="#333" text-anchor="middle">100</text><line x1="342.7" y1="408.5" x2="342.7" y2="410.3" stroke="#444" stroke-width="0.9"/><path d="M123.45 398.05h2.5v2.5h-2.5zM125.45 398.05h2.5v2.5h-2.5zM127.45 391.4h2.5v2.5h-2.5zM129.45 387.96h2.5v2.5h-2.5zM131.45 379.24h2.5v2.5h-2.5zM133.45 385.63h2.5v2.5h-2.5zM135.45 379.55h2.5v2.5h-2.5zM137.45 376.24h2.5v2.5h-2.5zM139.45 373.5h2.5v2.5h-2.5zM141.45 372.29h2.5v2.5h-2.5zM143.45 371.53h2.5v2.5h-2.5zM145.45 368.79h2.5v2.5h-2.5zM147.45 366.8h2.5v2.5h-2.5zM149.45 370.04h2.5v2.5h-2.5zM151.45 362.93h2.5v2.5h-2.5zM153.45 363.6h2.5v2.5h-2.5zM155.45 360.62h2.5v2.5h-2.5zM157.45 359.65h2.5v2.5h-2.5zM159.45 358.71h2.5v2.5h-2.5zM161.45 358.41h2.5v2.5h-2.5zM163.45 358.54h2.5v2.5h-2.5zM165.45 356.2h2.5v2.5h-2.5zM167.45 355.46h2.5v2.5h-2.5zM169.45 352.71h2.5v2.5h-2.5zM171.45 354.16h2.5v2.5h-2.5zM173.45 356.25h2.5v2.5h-2.5zM175.45 352.64h2.5v2.5h-2.5zM177.45 351.12h2.5v2.5h-2.5zM179.45 351.69h2.5v2.5h-2.5zM181.45 350.24h2.5v2.5h-2.5zM183.45 349.14h2.5v2.5h-2.5zM185.45 348.18h2.5v2.5h-2.5zM187.45 347.92h2.5v2.5h-2.5zM189.45 346.22h2.5v2.5h-2.5zM191.45 345.34h2.5v2.5h-2.5zM193.45 344.47h2.5v2.5h-2.5zM195.45 343.12h2.5v2.5h-2.5zM197.45 343.49h2.5v2.5h-2.5zM199.45 344.46h2.5v2.5h-2.5zM201.45 342.23h2.5v2.5h-2.5zM203.45 340.45h2.5v2.5h-2.5zM205.45 340.79h2.5v2.5h-2.5zM207.45 340.86h2.5v2.5h-2.5zM209.45 340.07h2.5v2.5h-2.5zM211.45 339.06h2.5v2.5h-2.5zM213.45 338.94h2.5v2.5h-2.5zM215.45 338.35h2.5v2.5h-2.5zM217.45 337.63h2.5v2.5h-2.5zM219.45 337.36h2.5v2.5h-2.5zM221.45 336.6h2.5v2.5h-2.5zM223.45 335.6h2.5v2.5h-2.5zM225.45 334.4h2.5v2.5h-2.5zM227.45 335.02h2.5v2.5h-2.5zM229.45 337.47h2.5v2.5h-2.5zM231.45 332.95h2.5v2.5h-2.5zM233.45 334.58h2.5v2.5h-2.5zM235.45 333.47h2.5v2.5h-2.5zM237.45 333.83h2.5v2.5h-2.5zM239.45 332.41h2.5v2.5h-2.5zM241.45 332.31h2.5v2.5h-2.5zM243.45 332.1h2.5v2.5h-2.5zM245.45 331.46h2.5v2.5h-2.5zM247.45 331.46h2.5v2.5h-2.5zM249.45 331.24h2.5v2.5h-2.5zM251.45 330.81h2.5v2.5h-2.5zM253.45 330.23h2.5v2.5h-2.5zM255.45 328.85h2.5v2.5h-2.5zM257.45 328.71h2.5v2.5h-2.5zM259.45 328.03h2.5v2.5h-2.5zM261.45 328.14h2.5v2.5h-2.5zM263.45 327.04h2.5v2.5h-2.5zM265.45 327.14h2.5v2.5h-2.5zM267.45 326.89h2.5v2.5h-2.5zM269.45 326.93h2.5v2.5h-2.5zM271.45 327.44h2.5v2.5h-2.5zM273.45 326.83h2.5v2.5h-2.5zM275.45 326.55h2.5v2.5h-2.5zM277.45 325.8h2.5v2.5h-2.5zM279.45 324.96h2.5v2.5h-2.5zM281.45 325.17h2.5v2.5h-2.5zM283.45 325.16h2.5v2.5h-2.5zM285.45 325.93h2.5v2.5h-2.5zM287.45 326.59h2.5v2.5h-2.5zM289.45 324.71h2.5v2.5h-2.5zM291.45 322.57h2.5v2.5h-2.5zM293.45 322.42h2.5v2.5h-2.5zM295.45 321.91h2.5v2.5h-2.5zM297.45 321.74h2.5v2.5h-2.5zM299.45 321.26h2.5v2.5h-2.5zM301.45 321.2h2.5v2.5h-2.5zM303.45 321.62h2.5v2.5h-2.5zM305.45 320.9h2.5v2.5h-2.5zM307.45 321.49h2.5v2.5h-2.5zM309.45 321.34h2.5v2.5h-2.5zM311.45 320.31h2.5v2.5h-2.5zM313.45 321.23h2.5v2.5h-2.5zM315.45 320.69h2.5v2.5h-2.5zM317.45 319.71h2.5v2.5h-2.5zM319.45 319.6h2.5v2.5h-2.5z" fill="#000"/><path d="M123.4 399.3a1.3 1.3 0 1 0 2.6 0a1.3 1.3 0 1 0 -2.6 0zM125.4 372.61a1.3 1.3 0 1 0 2.6 0a1.3 1.3 0 1 0 -2.6 0zM127.4 368.14a1.3 1.3 0 1 0 2.6 0a1.3 1.3 0 1 0 -2.6 0zM129.4 366.94a1.3 1.3 0 1 0 2.6 0a1.3 1.3 0 1 0 -2.6 0zM131.4 360.35a1.3 1.3 0 1 0 2.6 0a1.3 1.3 0 1 0 -2.6 0zM133.4 365.42a1.3 1.3 0 1 0 2.6 0a1.3 1.3 0 1 0 -2.6 0zM135.4 362.51a1.3 1.3 0 1 0 2.6 0a1.3 1.3 0 1 0 -2.6 0zM137.4 360.36a1.3 1.3 0 1 0 2.6 0a1.3 1.3 0 1 0 -2.6 0zM139.4 358.28a1.3 1.3 0 1 0 2.6 0a1.3 1.3 0 1 0 -2.6 0zM141.4 357.16a1.3 1.3 0 1 0 2.6 0a1.3 1.3 0 1 0 -2.6 0zM143.4 355.71a1.3 1.3 0 1 0 2.6 0a1.3 1.3 0 1 0 -2.6 0zM145.4 354.19a1.3 1.3 0 1 0 2.6 0a1.3 1.3 0 1 0 -2.6 0zM147.4 353.49a1.3 1.3 0 1 0 2.6 0a1.3 1.3 0 1 0 -2.6 0zM149.4 354.46a1.3 1.3 0 1 0 2.6 0a1.3 1.3 0 1 0 -2.6 0zM151.4 347.32a1.3 1.3 0 1 0 2.6 0a1.3 1.3 0 1 0 -2.6 0zM153.4 352.37a1.3 1.3 0 1 0 2.6 0a1.3 1.3 0 1 0 -2.6 0zM155.4 349.81a1.3 1.3 0 1 0 2.6 0a1.3 1.3 0 1 0 -2.6 0zM157.4 348.29a1.3 1.3 0 1 0 2.6 0a1.3 1.3 0 1 0 -2.6 0zM159.4 346.89a1.3 1.3 0 1 0 2.6 0a1.3 1.3 0 1 0 -2.6 0zM161.4 348.13a1.3 1.3 0 1 0 2.6 0a1.3 1.3 0 1 0 -2.6 0zM163.4 346.9a1.3 1.3 0 1 0 2.6 0a1.3 1.3 0 1 0 -2.6 0zM165.4 348.07a1.3 1.3 0 1 0 2.6 0a1.3 1.3 0 1 0 -2.6 0zM167.4 344.98a1.3 1.3 0 1 0 2.6 0a1.3 1.3 0 1 0 -2.6 0zM169.4 344.2a1.3 1.3 0 1 0 2.6 0a1.3 1.3 0 1 0 -2.6 0zM171.4 345.01a1.3 1.3 0 1 0 2.6 0a1.3 1.3 0 1 0 -2.6 0zM173.4 347.19a1.3 1.3 0 1 0 2.6 0a1.3 1.3 0 1 0 -2.6 0zM175.4 345.58a1.3 1.3 0 1 0 2.6 0a1.3 1.3 0 1 0 -2.6 0zM177.4 344a1.3 1.3 0 1 0 2.6 0a1.3 1.3 0 1 0 -2.6 0zM179.4 342.62a1.3 1.3 0 1 0 2.6 0a1.3 1.3 0 1 0 -2.6 0zM181.4 342.52a1.3 1.3 0 1 0 2.6 0a1.3 1.3 0 1 0 -2.6 0zM183.4 342.33a1.3 1.3 0 1 0 2.6 0a1.3 1.3 0 1 0 -2.6 0zM185.4 341.54a1.3 1.3 0 1 0 2.6 0a1.3 1.3 0 1 0 -2.6 0zM187.4 340.8a1.3 1.3 0 1 0 2.6 0a1.3 1.3 0 1 0 -2.6 0zM189.4 339.8a1.3 1.3 0 1 0 2.6 0a1.3 1.3 0 1 0 -2.6 0zM191.4 338.72a1.3 1.3 0 1 0 2.6 0a1.3 1.3 0 1 0 -2.6 0zM193.4 338.19a1.3 1.3 0 1 0 2.6 0a1.3 1.3 0 1 0 -2.6 0zM195.4 337.75a1.3 1.3 0 1 0 2.6 0a1.3 1.3 0 1 0 -2.6 0zM197.4 337.53a1.3 1.3 0 1 0 2.6 0a1.3 1.3 0 1 0 -2.6 0zM199.4 337.25a1.3 1.3 0 1 0 2.6 0a1.3 1.3 0 1 0 -2.6 0zM201.4 336.72a1.3 1.3 0 1 0 2.6 0a1.3 1.3 0 1 0 -2.6 0zM203.4 336.2a1.3 1.3 0 1 0 2.6 0a1.3 1.3 0 1 0 -2.6 0zM205.4 335.71a1.3 1.3 0 1 0 2.6 0a1.3 1.3 0 1 0 -2.6 0zM207.4 335.25a1.3 1.3 0 1 0 2.6 0a1.3 1.3 0 1 0 -2.6 0zM209.4 335.01a1.3 1.3 0 1 0 2.6 0a1.3 1.3 0 1 0 -2.6 0zM211.4 334.77a1.3 1.3 0 1 0 2.6 0a1.3 1.3 0 1 0 -2.6 0zM213.4 334.54a1.3 1.3 0 1 0 2.6 0a1.3 1.3 0 1 0 -2.6 0zM215.4 334.29a1.3 1.3 0 1 0 2.6 0a1.3 1.3 0 1 0 -2.6 0zM217.4 333.78a1.3 1.3 0 1 0 2.6 0a1.3 1.3 0 1 0 -2.6 0zM219.4 333.26a1.3 1.3 0 1 0 2.6 0a1.3 1.3 0 1 0 -2.6 0zM221.4 332.24a1.3 1.3 0 1 0 2.6 0a1.3 1.3 0 1 0 -2.6 0zM223.4 331.89a1.3 1.3 0 1 0 2.6 0a1.3 1.3 0 1 0 -2.6 0zM225.4 332.2a1.3 1.3 0 1 0 2.6 0a1.3 1.3 0 1 0 -2.6 0zM227.4 332.85a1.3 1.3 0 1 0 2.6 0a1.3 1.3 0 1 0 -2.6 0zM229.4 332.45a1.3 1.3 0 1 0 2.6 0a1.3 1.3 0 1 0 -2.6 0zM231.4 330.42a1.3 1.3 0 1 0 2.6 0a1.3 1.3 0 1 0 -2.6 0zM233.4 330.49a1.3 1.3 0 1 0 2.6 0a1.3 1.3 0 1 0 -2.6 0zM235.4 330.92a1.3 1.3 0 1 0 2.6 0a1.3 1.3 0 1 0 -2.6 0zM237.4 331.6a1.3 1.3 0 1 0 2.6 0a1.3 1.3 0 1 0 -2.6 0zM239.4 330.68a1.3 1.3 0 1 0 2.6 0a1.3 1.3 0 1 0 -2.6 0zM241.4 329.65a1.3 1.3 0 1 0 2.6 0a1.3 1.3 0 1 0 -2.6 0zM243.4 329.3a1.3 1.3 0 1 0 2.6 0a1.3 1.3 0 1 0 -2.6 0zM245.4 328.99a1.3 1.3 0 1 0 2.6 0a1.3 1.3 0 1 0 -2.6 0zM247.4 328.71a1.3 1.3 0 1 0 2.6 0a1.3 1.3 0 1 0 -2.6 0zM249.4 328.27a1.3 1.3 0 1 0 2.6 0a1.3 1.3 0 1 0 -2.6 0zM251.4 327.77a1.3 1.3 0 1 0 2.6 0a1.3 1.3 0 1 0 -2.6 0zM253.4 327.99a1.3 1.3 0 1 0 2.6 0a1.3 1.3 0 1 0 -2.6 0zM255.4 327.35a1.3 1.3 0 1 0 2.6 0a1.3 1.3 0 1 0 -2.6 0zM257.4 326.28a1.3 1.3 0 1 0 2.6 0a1.3 1.3 0 1 0 -2.6 0zM259.4 326.43a1.3 1.3 0 1 0 2.6 0a1.3 1.3 0 1 0 -2.6 0zM261.4 326.22a1.3 1.3 0 1 0 2.6 0a1.3 1.3 0 1 0 -2.6 0zM263.4 325.12a1.3 1.3 0 1 0 2.6 0a1.3 1.3 0 1 0 -2.6 0zM265.4 325.13a1.3 1.3 0 1 0 2.6 0a1.3 1.3 0 1 0 -2.6 0zM267.4 324.7a1.3 1.3 0 1 0 2.6 0a1.3 1.3 0 1 0 -2.6 0zM269.4 324.51a1.3 1.3 0 1 0 2.6 0a1.3 1.3 0 1 0 -2.6 0zM271.4 323.91a1.3 1.3 0 1 0 2.6 0a1.3 1.3 0 1 0 -2.6 0zM273.4 323.99a1.3 1.3 0 1 0 2.6 0a1.3 1.3 0 1 0 -2.6 0zM275.4 324a1.3 1.3 0 1 0 2.6 0a1.3 1.3 0 1 0 -2.6 0zM277.4 324.4a1.3 1.3 0 1 0 2.6 0a1.3 1.3 0 1 0 -2.6 0zM279.4 323.68a1.3 1.3 0 1 0 2.6 0a1.3 1.3 0 1 0 -2.6 0zM281.4 323.47a1.3 1.3 0 1 0 2.6 0a1.3 1.3 0 1 0 -2.6 0zM283.4 323.08a1.3 1.3 0 1 0 2.6 0a1.3 1.3 0 1 0 -2.6 0zM285.4 323.15a1.3 1.3 0 1 0 2.6 0a1.3 1.3 0 1 0 -2.6 0zM287.4 321.69a1.3 1.3 0 1 0 2.6 0a1.3 1.3 0 1 0 -2.6 0zM289.4 322.24a1.3 1.3 0 1 0 2.6 0a1.3 1.3 0 1 0 -2.6 0zM291.4 321.72a1.3 1.3 0 1 0 2.6 0a1.3 1.3 0 1 0 -2.6 0zM293.4 322.29a1.3 1.3 0 1 0 2.6 0a1.3 1.3 0 1 0 -2.6 0zM295.4 321.35a1.3 1.3 0 1 0 2.6 0a1.3 1.3 0 1 0 -2.6 0zM297.4 320.8a1.3 1.3 0 1 0 2.6 0a1.3 1.3 0 1 0 -2.6 0zM299.4 321.19a1.3 1.3 0 1 0 2.6 0a1.3 1.3 0 1 0 -2.6 0zM301.4 322.75a1.3 1.3 0 1 0 2.6 0a1.3 1.3 0 1 0 -2.6 0zM303.4 321.45a1.3 1.3 0 1 0 2.6 0a1.3 1.3 0 1 0 -2.6 0zM305.4 321.08a1.3 1.3 0 1 0 2.6 0a1.3 1.3 0 1 0 -2.6 0zM307.4 320.49a1.3 1.3 0 1 0 2.6 0a1.3 1.3 0 1 0 -2.6 0zM309.4 321.3a1.3 1.3 0 1 0 2.6 0a1.3 1.3 0 1 0 -2.6 0zM311.4 320.76a1.3 1.3 0 1 0 2.6 0a1.3 1.3 0 1 0 -2.6 0zM313.4 320.66a1.3 1.3 0 1 0 2.6 0a1.3 1.3 0 1 0 -2.6 0zM315.4 319.95a1.3 1.3 0 1 0 2.6 0a1.3 1.3 0 1 0 -2.6 0zM317.4 319.37a1.3 1.3 0 1 0 2.6 0a1.3 1.3 0 1 0 -2.6 0zM319.4 319.49a1.3 1.3 0 1 0 2.6 0a1.3 1.3 0 1 0 -2.6 0z" fill="#dc0000"/><text x="125.39" y="315.80" font-size="15" fill="#111" textLength="57.81" lengthAdjust="spacingAndGlyphs" stroke="#111" stroke-width="0.3">fragment</text><text x="187.95" y="315.80" font-size="15" fill="#111" textLength="48.49" lengthAdjust="spacingAndGlyphs" stroke="#111" stroke-width="0.3">number</text><text x="242.43" y="315.80" font-size="15" fill="#111" textLength="23.52" lengthAdjust="spacingAndGlyphs" stroke="#111" stroke-width="0.3">120</text></g>
<g><line x1="376.5" y1="304.18" x2="376.5" y2="408.6" stroke="#333" stroke-width="1.1"/><line x1="374.8" y1="408.43" x2="376.5" y2="408.43" stroke="#333" stroke-width="0.9"/><line x1="373.5" y1="398" x2="376.5" y2="398" stroke="#333" stroke-width="0.9"/><text transform="translate(371.6 400) scale(1 1.12)" font-size="5.5" fill="#333" text-anchor="end">0</text><line x1="374.8" y1="387.57" x2="376.5" y2="387.57" stroke="#333" stroke-width="0.9"/><line x1="373.5" y1="377.15" x2="376.5" y2="377.15" stroke="#333" stroke-width="0.9"/><text transform="translate(371.6 379.15) scale(1 1.12)" font-size="5.5" fill="#333" text-anchor="end">100</text><line x1="374.8" y1="366.73" x2="376.5" y2="366.73" stroke="#333" stroke-width="0.9"/><line x1="373.5" y1="356.3" x2="376.5" y2="356.3" stroke="#333" stroke-width="0.9"/><text transform="translate(371.6 358.3) scale(1 1.12)" font-size="5.5" fill="#333" text-anchor="end">200</text><line x1="374.8" y1="345.88" x2="376.5" y2="345.88" stroke="#333" stroke-width="0.9"/><line x1="373.5" y1="335.45" x2="376.5" y2="335.45" stroke="#333" stroke-width="0.9"/><text transform="translate(371.6 337.45) scale(1 1.12)" font-size="5.5" fill="#333" text-anchor="end">300</text><line x1="374.8" y1="325.02" x2="376.5" y2="325.02" stroke="#333" stroke-width="0.9"/><line x1="373.5" y1="314.6" x2="376.5" y2="314.6" stroke="#333" stroke-width="0.9"/><text transform="translate(371.6 316.6) scale(1 1.12)" font-size="5.5" fill="#333" text-anchor="end">400</text><line x1="374.8" y1="304.18" x2="376.5" y2="304.18" stroke="#333" stroke-width="0.9"/><line x1="376.5" y1="408.6" x2="616.5" y2="408.6" stroke="#333" stroke-width="1.1"/><line x1="376.5" y1="408.6" x2="376.5" y2="410.4" stroke="#333" stroke-width="0.9"/><line x1="396.5" y1="408.6" x2="396.5" y2="411.8" stroke="#333" stroke-width="0.9"/><text transform="translate(396.5 417.8) scale(1 1.12)" font-size="5.5" fill="#333" text-anchor="middle">0</text><line x1="416.5" y1="408.6" x2="416.5" y2="410.4" stroke="#333" stroke-width="0.9"/><line x1="436.5" y1="408.6" x2="436.5" y2="411.8" stroke="#333" stroke-width="0.9"/><text transform="translate(436.5 417.8) scale(1 1.12)" font-size="5.5" fill="#333" text-anchor="middle">20</text><line x1="456.5" y1="408.6" x2="456.5" y2="410.4" stroke="#333" stroke-width="0.9"/><line x1="476.5" y1="408.6" x2="476.5" y2="411.8" stroke="#333" stroke-width="0.9"/><text transform="translate(476.5 417.8) scale(1 1.12)" font-size="5.5" fill="#333" text-anchor="middle">40</text><line x1="496.5" y1="408.6" x2="496.5" y2="410.4" stroke="#333" stroke-width="0.9"/><line x1="516.5" y1="408.6" x2="516.5" y2="411.8" stroke="#333" stroke-width="0.9"/><text transform="translate(516.5 417.8) scale(1 1.12)" font-size="5.5" fill="#333" text-anchor="middle">60</text><line x1="536.5" y1="408.6" x2="536.5" y2="410.4" stroke="#333" stroke-width="0.9"/><line x1="556.5" y1="408.6" x2="556.5" y2="411.8" stroke="#333" stroke-width="0.9"/><text transform="translate(556.5 417.8) scale(1 1.12)" font-size="5.5" fill="#333" text-anchor="middle">80</text><line x1="576.5" y1="408.6" x2="576.5" y2="410.4" stroke="#333" stroke-width="0.9"/><line x1="596.5" y1="408.6" x2="596.5" y2="411.8" stroke="#333" stroke-width="0.9"/><text transform="translate(596.5 417.8) scale(1 1.12)" font-size="5.5" fill="#333" text-anchor="middle">100</text><line x1="616.5" y1="408.6" x2="616.5" y2="410.4" stroke="#333" stroke-width="0.9"/><path d="M397.25 396.75h2.5v2.5h-2.5zM399.25 396.75h2.5v2.5h-2.5zM401.25 391.89h2.5v2.5h-2.5zM403.25 388.14h2.5v2.5h-2.5zM405.25 383.96h2.5v2.5h-2.5zM407.25 380.6h2.5v2.5h-2.5zM409.25 379.66h2.5v2.5h-2.5zM411.25 377.74h2.5v2.5h-2.5zM413.25 371.61h2.5v2.5h-2.5zM415.25 368.84h2.5v2.5h-2.5zM417.25 370.62h2.5v2.5h-2.5zM419.25 368.88h2.5v2.5h-2.5zM421.25 366.05h2.5v2.5h-2.5zM423.25 366.74h2.5v2.5h-2.5zM425.25 362.11h2.5v2.5h-2.5zM427.25 359.97h2.5v2.5h-2.5zM429.25 360.68h2.5v2.5h-2.5zM431.25 358.74h2.5v2.5h-2.5zM433.25 357.74h2.5v2.5h-2.5zM435.25 356.71h2.5v2.5h-2.5zM437.25 355.21h2.5v2.5h-2.5zM439.25 353.76h2.5v2.5h-2.5zM441.25 353.28h2.5v2.5h-2.5zM443.25 353.76h2.5v2.5h-2.5zM445.25 351.76h2.5v2.5h-2.5zM447.25 351.23h2.5v2.5h-2.5zM449.25 351.61h2.5v2.5h-2.5zM451.25 347.6h2.5v2.5h-2.5zM453.25 348.03h2.5v2.5h-2.5zM455.25 347.98h2.5v2.5h-2.5zM457.25 347.5h2.5v2.5h-2.5zM459.25 346.97h2.5v2.5h-2.5zM461.25 344.57h2.5v2.5h-2.5zM463.25 342.93h2.5v2.5h-2.5zM465.25 342.11h2.5v2.5h-2.5zM467.25 339.95h2.5v2.5h-2.5zM469.25 339.26h2.5v2.5h-2.5zM471.25 338.81h2.5v2.5h-2.5zM473.25 337.99h2.5v2.5h-2.5zM475.25 337.33h2.5v2.5h-2.5zM477.25 338.75h2.5v2.5h-2.5zM479.25 338.69h2.5v2.5h-2.5zM481.25 337.34h2.5v2.5h-2.5zM483.25 336.18h2.5v2.5h-2.5zM485.25 335.55h2.5v2.5h-2.5zM487.25 334.44h2.5v2.5h-2.5zM489.25 334.28h2.5v2.5h-2.5zM491.25 333.39h2.5v2.5h-2.5zM493.25 331.92h2.5v2.5h-2.5zM495.25 331.96h2.5v2.5h-2.5zM497.25 333.6h2.5v2.5h-2.5zM499.25 335.38h2.5v2.5h-2.5zM501.25 330.27h2.5v2.5h-2.5zM503.25 329.26h2.5v2.5h-2.5zM505.25 328.95h2.5v2.5h-2.5zM507.25 329.06h2.5v2.5h-2.5zM509.25 329.06h2.5v2.5h-2.5zM511.25 327.93h2.5v2.5h-2.5zM513.25 327.48h2.5v2.5h-2.5zM515.25 327.75h2.5v2.5h-2.5zM517.25 326.89h2.5v2.5h-2.5zM519.25 326.08h2.5v2.5h-2.5zM521.25 326.96h2.5v2.5h-2.5zM523.25 326.1h2.5v2.5h-2.5zM525.25 325.72h2.5v2.5h-2.5zM527.25 323.74h2.5v2.5h-2.5zM529.25 323.05h2.5v2.5h-2.5zM531.25 323.84h2.5v2.5h-2.5zM533.25 325.16h2.5v2.5h-2.5zM535.25 324.12h2.5v2.5h-2.5zM537.25 322.43h2.5v2.5h-2.5zM539.25 321.09h2.5v2.5h-2.5zM541.25 321.93h2.5v2.5h-2.5zM543.25 321.51h2.5v2.5h-2.5zM545.25 322.18h2.5v2.5h-2.5zM547.25 321.71h2.5v2.5h-2.5zM549.25 321.48h2.5v2.5h-2.5zM551.25 319.61h2.5v2.5h-2.5zM553.25 319.51h2.5v2.5h-2.5zM555.25 318.6h2.5v2.5h-2.5zM557.25 318.73h2.5v2.5h-2.5zM559.25 317.74h2.5v2.5h-2.5zM561.25 318.27h2.5v2.5h-2.5zM563.25 316.8h2.5v2.5h-2.5zM565.25 317.23h2.5v2.5h-2.5zM567.25 316.86h2.5v2.5h-2.5zM569.25 316.28h2.5v2.5h-2.5zM571.25 317.17h2.5v2.5h-2.5zM573.25 317.49h2.5v2.5h-2.5zM575.25 316.75h2.5v2.5h-2.5zM577.25 314.59h2.5v2.5h-2.5zM579.25 314.71h2.5v2.5h-2.5zM581.25 314.5h2.5v2.5h-2.5zM583.25 314.75h2.5v2.5h-2.5zM585.25 312.62h2.5v2.5h-2.5zM587.25 311.73h2.5v2.5h-2.5zM589.25 312.09h2.5v2.5h-2.5zM591.25 312.18h2.5v2.5h-2.5zM593.25 311.86h2.5v2.5h-2.5z" fill="#000"/><path d="M397.2 398a1.3 1.3 0 1 0 2.6 0a1.3 1.3 0 1 0 -2.6 0zM399.2 367.73a1.3 1.3 0 1 0 2.6 0a1.3 1.3 0 1 0 -2.6 0zM401.2 366.56a1.3 1.3 0 1 0 2.6 0a1.3 1.3 0 1 0 -2.6 0zM403.2 364.5a1.3 1.3 0 1 0 2.6 0a1.3 1.3 0 1 0 -2.6 0zM405.2 362.78a1.3 1.3 0 1 0 2.6 0a1.3 1.3 0 1 0 -2.6 0zM407.2 360.7a1.3 1.3 0 1 0 2.6 0a1.3 1.3 0 1 0 -2.6 0zM409.2 360.2a1.3 1.3 0 1 0 2.6 0a1.3 1.3 0 1 0 -2.6 0zM411.2 358.15a1.3 1.3 0 1 0 2.6 0a1.3 1.3 0 1 0 -2.6 0zM413.2 355.71a1.3 1.3 0 1 0 2.6 0a1.3 1.3 0 1 0 -2.6 0zM415.2 354.2a1.3 1.3 0 1 0 2.6 0a1.3 1.3 0 1 0 -2.6 0zM417.2 354.86a1.3 1.3 0 1 0 2.6 0a1.3 1.3 0 1 0 -2.6 0zM419.2 353.77a1.3 1.3 0 1 0 2.6 0a1.3 1.3 0 1 0 -2.6 0zM421.2 352.26a1.3 1.3 0 1 0 2.6 0a1.3 1.3 0 1 0 -2.6 0zM423.2 350.97a1.3 1.3 0 1 0 2.6 0a1.3 1.3 0 1 0 -2.6 0zM425.2 349.32a1.3 1.3 0 1 0 2.6 0a1.3 1.3 0 1 0 -2.6 0zM427.2 348.18a1.3 1.3 0 1 0 2.6 0a1.3 1.3 0 1 0 -2.6 0zM429.2 347.84a1.3 1.3 0 1 0 2.6 0a1.3 1.3 0 1 0 -2.6 0zM431.2 348.09a1.3 1.3 0 1 0 2.6 0a1.3 1.3 0 1 0 -2.6 0zM433.2 347.81a1.3 1.3 0 1 0 2.6 0a1.3 1.3 0 1 0 -2.6 0zM435.2 346.11a1.3 1.3 0 1 0 2.6 0a1.3 1.3 0 1 0 -2.6 0zM437.2 345.52a1.3 1.3 0 1 0 2.6 0a1.3 1.3 0 1 0 -2.6 0zM439.2 345.19a1.3 1.3 0 1 0 2.6 0a1.3 1.3 0 1 0 -2.6 0zM441.2 344.85a1.3 1.3 0 1 0 2.6 0a1.3 1.3 0 1 0 -2.6 0zM443.2 343.79a1.3 1.3 0 1 0 2.6 0a1.3 1.3 0 1 0 -2.6 0zM445.2 342.5a1.3 1.3 0 1 0 2.6 0a1.3 1.3 0 1 0 -2.6 0zM447.2 341.48a1.3 1.3 0 1 0 2.6 0a1.3 1.3 0 1 0 -2.6 0zM449.2 340.95a1.3 1.3 0 1 0 2.6 0a1.3 1.3 0 1 0 -2.6 0zM451.2 340.7a1.3 1.3 0 1 0 2.6 0a1.3 1.3 0 1 0 -2.6 0zM453.2 341.04a1.3 1.3 0 1 0 2.6 0a1.3 1.3 0 1 0 -2.6 0zM455.2 340.78a1.3 1.3 0 1 0 2.6 0a1.3 1.3 0 1 0 -2.6 0zM457.2 340.08a1.3 1.3 0 1 0 2.6 0a1.3 1.3 0 1 0 -2.6 0zM459.2 338.96a1.3 1.3 0 1 0 2.6 0a1.3 1.3 0 1 0 -2.6 0zM461.2 339.11a1.3 1.3 0 1 0 2.6 0a1.3 1.3 0 1 0 -2.6 0zM463.2 337.37a1.3 1.3 0 1 0 2.6 0a1.3 1.3 0 1 0 -2.6 0zM465.2 336.56a1.3 1.3 0 1 0 2.6 0a1.3 1.3 0 1 0 -2.6 0zM467.2 336.95a1.3 1.3 0 1 0 2.6 0a1.3 1.3 0 1 0 -2.6 0zM469.2 335.95a1.3 1.3 0 1 0 2.6 0a1.3 1.3 0 1 0 -2.6 0zM471.2 334.82a1.3 1.3 0 1 0 2.6 0a1.3 1.3 0 1 0 -2.6 0zM473.2 334.49a1.3 1.3 0 1 0 2.6 0a1.3 1.3 0 1 0 -2.6 0zM475.2 333.63a1.3 1.3 0 1 0 2.6 0a1.3 1.3 0 1 0 -2.6 0zM477.2 332.91a1.3 1.3 0 1 0 2.6 0a1.3 1.3 0 1 0 -2.6 0zM479.2 333.54a1.3 1.3 0 1 0 2.6 0a1.3 1.3 0 1 0 -2.6 0zM481.2 332.45a1.3 1.3 0 1 0 2.6 0a1.3 1.3 0 1 0 -2.6 0zM483.2 332.99a1.3 1.3 0 1 0 2.6 0a1.3 1.3 0 1 0 -2.6 0zM485.2 332.05a1.3 1.3 0 1 0 2.6 0a1.3 1.3 0 1 0 -2.6 0zM487.2 331a1.3 1.3 0 1 0 2.6 0a1.3 1.3 0 1 0 -2.6 0zM489.2 332.16a1.3 1.3 0 1 0 2.6 0a1.3 1.3 0 1 0 -2.6 0zM491.2 330.94a1.3 1.3 0 1 0 2.6 0a1.3 1.3 0 1 0 -2.6 0zM493.2 330.8a1.3 1.3 0 1 0 2.6 0a1.3 1.3 0 1 0 -2.6 0zM495.2 329.82a1.3 1.3 0 1 0 2.6 0a1.3 1.3 0 1 0 -2.6 0zM497.2 330.18a1.3 1.3 0 1 0 2.6 0a1.3 1.3 0 1 0 -2.6 0zM499.2 330.7a1.3 1.3 0 1 0 2.6 0a1.3 1.3 0 1 0 -2.6 0zM501.2 330.25a1.3 1.3 0 1 0 2.6 0a1.3 1.3 0 1 0 -2.6 0zM503.2 328.84a1.3 1.3 0 1 0 2.6 0a1.3 1.3 0 1 0 -2.6 0zM505.2 328.89a1.3 1.3 0 1 0 2.6 0a1.3 1.3 0 1 0 -2.6 0zM507.2 328.19a1.3 1.3 0 1 0 2.6 0a1.3 1.3 0 1 0 -2.6 0zM509.2 327.45a1.3 1.3 0 1 0 2.6 0a1.3 1.3 0 1 0 -2.6 0zM511.2 327.14a1.3 1.3 0 1 0 2.6 0a1.3 1.3 0 1 0 -2.6 0zM513.2 327.2a1.3 1.3 0 1 0 2.6 0a1.3 1.3 0 1 0 -2.6 0zM515.2 326.39a1.3 1.3 0 1 0 2.6 0a1.3 1.3 0 1 0 -2.6 0zM517.2 325.43a1.3 1.3 0 1 0 2.6 0a1.3 1.3 0 1 0 -2.6 0zM519.2 326.47a1.3 1.3 0 1 0 2.6 0a1.3 1.3 0 1 0 -2.6 0zM521.2 324.57a1.3 1.3 0 1 0 2.6 0a1.3 1.3 0 1 0 -2.6 0zM523.2 324.99a1.3 1.3 0 1 0 2.6 0a1.3 1.3 0 1 0 -2.6 0zM525.2 324.83a1.3 1.3 0 1 0 2.6 0a1.3 1.3 0 1 0 -2.6 0zM527.2 322.57a1.3 1.3 0 1 0 2.6 0a1.3 1.3 0 1 0 -2.6 0zM529.2 322.58a1.3 1.3 0 1 0 2.6 0a1.3 1.3 0 1 0 -2.6 0zM531.2 322.11a1.3 1.3 0 1 0 2.6 0a1.3 1.3 0 1 0 -2.6 0zM533.2 320.7a1.3 1.3 0 1 0 2.6 0a1.3 1.3 0 1 0 -2.6 0zM535.2 321.34a1.3 1.3 0 1 0 2.6 0a1.3 1.3 0 1 0 -2.6 0zM537.2 320.65a1.3 1.3 0 1 0 2.6 0a1.3 1.3 0 1 0 -2.6 0zM539.2 320.78a1.3 1.3 0 1 0 2.6 0a1.3 1.3 0 1 0 -2.6 0zM541.2 319.38a1.3 1.3 0 1 0 2.6 0a1.3 1.3 0 1 0 -2.6 0zM543.2 320.21a1.3 1.3 0 1 0 2.6 0a1.3 1.3 0 1 0 -2.6 0zM545.2 319.98a1.3 1.3 0 1 0 2.6 0a1.3 1.3 0 1 0 -2.6 0zM547.2 319.3a1.3 1.3 0 1 0 2.6 0a1.3 1.3 0 1 0 -2.6 0zM549.2 318.71a1.3 1.3 0 1 0 2.6 0a1.3 1.3 0 1 0 -2.6 0zM551.2 319.21a1.3 1.3 0 1 0 2.6 0a1.3 1.3 0 1 0 -2.6 0zM553.2 318.02a1.3 1.3 0 1 0 2.6 0a1.3 1.3 0 1 0 -2.6 0zM555.2 318.55a1.3 1.3 0 1 0 2.6 0a1.3 1.3 0 1 0 -2.6 0zM557.2 317.75a1.3 1.3 0 1 0 2.6 0a1.3 1.3 0 1 0 -2.6 0zM559.2 317.46a1.3 1.3 0 1 0 2.6 0a1.3 1.3 0 1 0 -2.6 0zM561.2 316.75a1.3 1.3 0 1 0 2.6 0a1.3 1.3 0 1 0 -2.6 0zM563.2 315.6a1.3 1.3 0 1 0 2.6 0a1.3 1.3 0 1 0 -2.6 0zM565.2 315.62a1.3 1.3 0 1 0 2.6 0a1.3 1.3 0 1 0 -2.6 0zM567.2 315.69a1.3 1.3 0 1 0 2.6 0a1.3 1.3 0 1 0 -2.6 0zM569.2 315.28a1.3 1.3 0 1 0 2.6 0a1.3 1.3 0 1 0 -2.6 0zM571.2 315.97a1.3 1.3 0 1 0 2.6 0a1.3 1.3 0 1 0 -2.6 0zM573.2 314.92a1.3 1.3 0 1 0 2.6 0a1.3 1.3 0 1 0 -2.6 0zM575.2 316.32a1.3 1.3 0 1 0 2.6 0a1.3 1.3 0 1 0 -2.6 0zM577.2 315a1.3 1.3 0 1 0 2.6 0a1.3 1.3 0 1 0 -2.6 0zM579.2 314.83a1.3 1.3 0 1 0 2.6 0a1.3 1.3 0 1 0 -2.6 0zM581.2 315.03a1.3 1.3 0 1 0 2.6 0a1.3 1.3 0 1 0 -2.6 0zM583.2 314.5a1.3 1.3 0 1 0 2.6 0a1.3 1.3 0 1 0 -2.6 0zM585.2 311.57a1.3 1.3 0 1 0 2.6 0a1.3 1.3 0 1 0 -2.6 0zM587.2 311.53a1.3 1.3 0 1 0 2.6 0a1.3 1.3 0 1 0 -2.6 0zM589.2 313.02a1.3 1.3 0 1 0 2.6 0a1.3 1.3 0 1 0 -2.6 0zM591.2 314.36a1.3 1.3 0 1 0 2.6 0a1.3 1.3 0 1 0 -2.6 0zM593.2 312.95a1.3 1.3 0 1 0 2.6 0a1.3 1.3 0 1 0 -2.6 0z" fill="#dc0000"/><text x="398.09" y="315.80" font-size="15.5" fill="#111" textLength="59.02" lengthAdjust="spacingAndGlyphs" stroke="#111" stroke-width="0.3">fragment</text><text x="462.02" y="315.80" font-size="15.5" fill="#111" textLength="50.13" lengthAdjust="spacingAndGlyphs" stroke="#111" stroke-width="0.3">number</text><text x="517.98" y="315.80" font-size="15.5" fill="#111" textLength="24.60" lengthAdjust="spacingAndGlyphs" stroke="#111" stroke-width="0.3">150</text></g>
<text x="149.56" y="428.60" font-size="10.6" font-weight="bold" fill="#2a2a2a" textLength="40.58" lengthAdjust="spacingAndGlyphs">percent</text>
<text x="194.13" y="428.60" font-size="10.6" font-weight="bold" fill="#2a2a2a" textLength="11.35" lengthAdjust="spacingAndGlyphs">of</text>
<text x="208.19" y="428.60" font-size="10.6" font-weight="bold" fill="#2a2a2a" textLength="34.31" lengthAdjust="spacingAndGlyphs">adding</text>
<text x="244.47" y="428.60" font-size="10.6" font-weight="bold" fill="#2a2a2a" textLength="33.08" lengthAdjust="spacingAndGlyphs">points</text>
<text x="280.08" y="428.60" font-size="10.6" font-weight="bold" fill="#2a2a2a" textLength="16.24" lengthAdjust="spacingAndGlyphs">(%)</text>
<text x="423.67" y="428.60" font-size="10.6" font-weight="bold" fill="#2a2a2a" textLength="39.96" lengthAdjust="spacingAndGlyphs">percent</text>
<text x="467.75" y="428.60" font-size="10.6" font-weight="bold" fill="#2a2a2a" textLength="10.93" lengthAdjust="spacingAndGlyphs">of</text>
<text x="481.90" y="428.60" font-size="10.6" font-weight="bold" fill="#2a2a2a" textLength="33.59" lengthAdjust="spacingAndGlyphs">adding</text>
<text x="517.78" y="428.60" font-size="10.6" font-weight="bold" fill="#2a2a2a" textLength="32.77" lengthAdjust="spacingAndGlyphs">points</text>
<text x="553.09" y="428.60" font-size="10.6" font-weight="bold" fill="#2a2a2a" textLength="15.81" lengthAdjust="spacingAndGlyphs">(%)</text>
<g transform="translate(74.0 0) rotate(-90)">
<text x="-269.68" y="0.00" font-size="10.2" font-weight="bold" fill="#2a2a2a" textLength="53.71" lengthAdjust="spacingAndGlyphs">fingerprint</text>
<text x="-212.38" y="0.00" font-size="10.2" font-weight="bold" fill="#2a2a2a" textLength="28.85" lengthAdjust="spacingAndGlyphs">score</text>
</g>
</svg></body></html>
